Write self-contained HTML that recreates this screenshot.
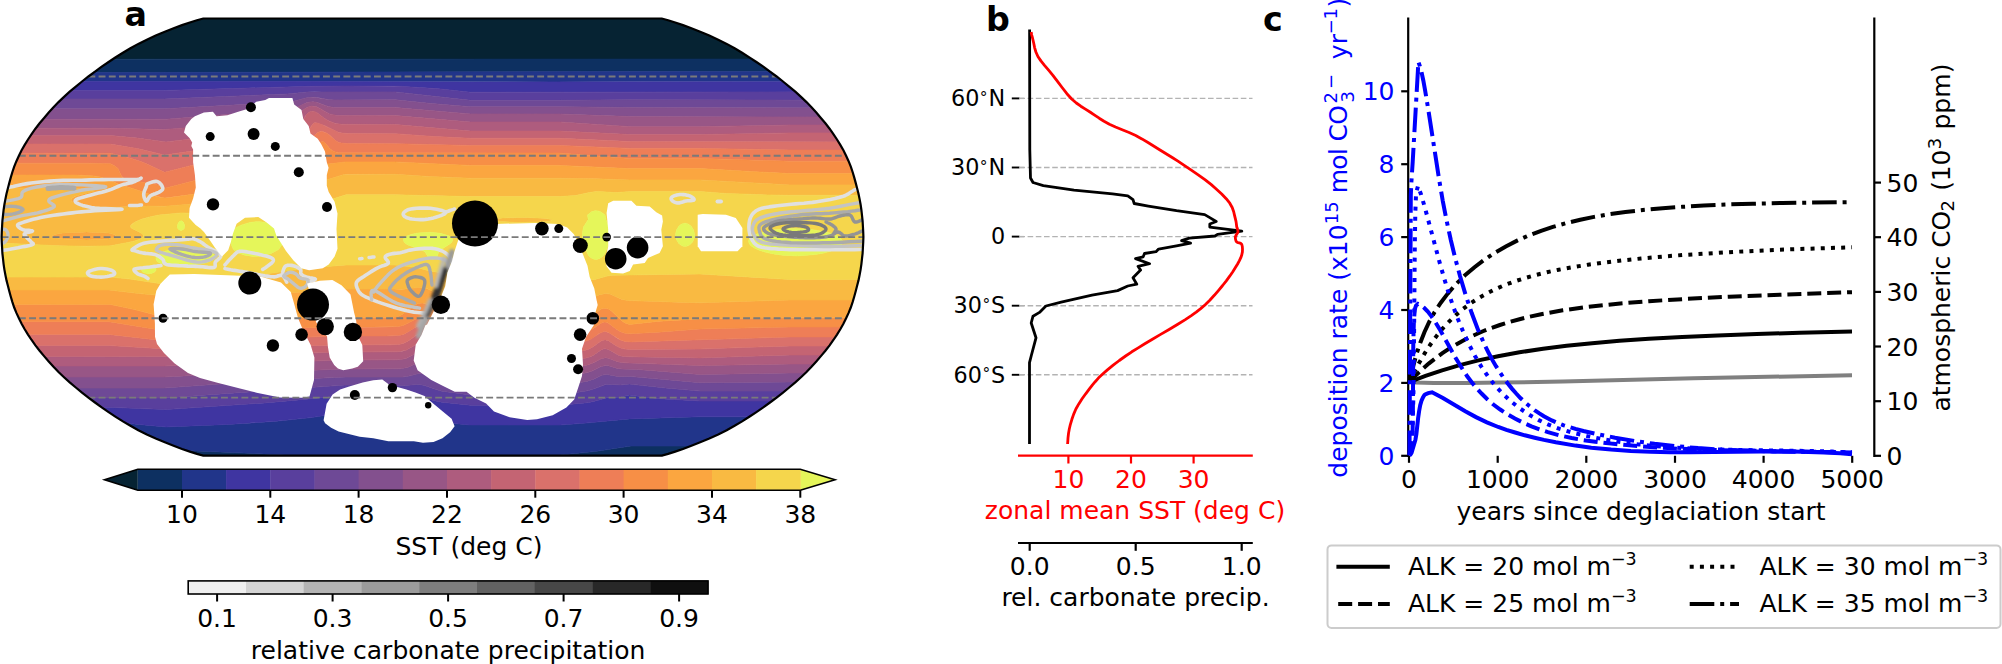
<!DOCTYPE html>
<html><head><meta charset="utf-8"><title>Figure</title>
<style>html,body{margin:0;padding:0;background:#fff;}svg{display:block;}text{font-family:'DejaVu Sans', 'Liberation Sans', sans-serif;}</style>
</head><body>
<svg width="2002" height="664" viewBox="0 0 2002 664">
<rect width="2002" height="664" fill="#fff"/>
<text x="124.6" y="25.9" font-size="33.3" text-anchor="start" fill="#000" font-weight="bold" >a</text>
<clipPath id="mc"><polygon points="661.8,455.6 668.1,453.9 675.2,451.6 683,449 691.4,445.8 700.2,442.3 709.3,438.5 718.2,434.4 726.7,430.2 734.6,425.8 742.1,421.4 749.3,416.8 756.4,412.1 763.3,407.4 770,402.5 776.6,397.6 783,392.6 789.2,387.5 795.3,382.4 801,377.2 806.5,372 811.5,366.8 816.3,361.5 820.9,356.1 825.4,350.8 829.6,345.4 833.4,340 837,334.6 840.3,329.2 843.4,323.8 846.1,318.3 848.6,312.9 850.8,307.5 852.6,302.1 854.2,296.7 855.7,291.2 857.1,285.8 858.5,280.4 859.6,275 860.6,269.6 861.4,264.1 862,258.7 862.6,253.3 862.9,247.9 863.2,242.5 863.4,237.1 863.2,231.6 862.9,226.2 862.6,220.8 862,215.4 861.4,210 860.6,204.5 859.6,199.1 858.5,193.7 857.1,188.3 855.7,182.9 854.2,177.4 852.6,172 850.8,166.6 848.6,161.2 846.1,155.8 843.4,150.3 840.3,144.9 837,139.5 833.4,134.1 829.6,128.7 825.4,123.3 820.9,118 816.3,112.6 811.5,107.3 806.5,102.1 801,96.9 795.3,91.7 789.2,86.6 783,81.5 776.6,76.5 770,71.6 763.3,66.7 756.4,62 749.3,57.3 742.1,52.7 734.6,48.3 726.7,43.9 718.2,39.7 709.3,35.6 700.2,31.8 691.4,28.3 683,25.1 675.2,22.5 668.1,20.2 661.8,18.5 203.2,18.5 196.9,20.2 189.8,22.5 182,25.1 173.6,28.3 164.8,31.8 155.7,35.6 146.8,39.7 138.3,43.9 130.4,48.3 122.9,52.7 115.7,57.3 108.6,62 101.7,66.7 95,71.6 88.4,76.5 82,81.5 75.8,86.6 69.7,91.7 64,96.9 58.5,102.1 53.5,107.3 48.7,112.6 44.1,118 39.6,123.3 35.4,128.7 31.6,134.1 28,139.5 24.7,144.9 21.6,150.3 18.9,155.8 16.4,161.2 14.2,166.6 12.4,172 10.8,177.4 9.3,182.9 7.9,188.3 6.5,193.7 5.4,199.1 4.4,204.5 3.6,210 3,215.4 2.4,220.8 2.1,226.2 1.8,231.6 1.6,237.1 1.8,242.5 2.1,247.9 2.4,253.3 3,258.7 3.6,264.1 4.4,269.6 5.4,275 6.5,280.4 7.9,285.8 9.3,291.2 10.8,296.7 12.4,302.1 14.2,307.5 16.4,312.9 18.9,318.3 21.6,323.8 24.7,329.2 28,334.6 31.6,340 35.4,345.4 39.6,350.8 44.1,356.1 48.7,361.5 53.5,366.8 58.5,372 64,377.2 69.7,382.4 75.8,387.5 82,392.6 88.4,397.6 95,402.5 101.7,407.4 108.6,412.1 115.7,416.8 122.9,421.4 130.4,425.8 138.3,430.2 146.8,434.4 155.7,438.5 164.8,442.3 173.6,445.8 182,449 189.8,451.6 196.9,453.9 203.2,455.6"/></clipPath>
<g clip-path="url(#mc)">
<path d="M-0.5 14l867 0 0 45 -738 0.2 -130.5 0 0 -45.2z" fill="#062333" stroke="#062333" stroke-width="0.6"/>
<path d="M-0.5 59.2l867 -0.2 0 12.4 -237 0 -465 1.1 -166.5 0 0 -13.3zM631 446l235.5 0 0 13.5 -868.5 0 0 -9.4 168 -0.4 72 3 106.5 5.3 49.5 0 34.5 -1.7 40.5 -1.3 91.5 0 36 -3.7 34.5 -5.3z" fill="#0d3061" stroke="#0d3061" stroke-width="0.6"/>
<path d="M110.5 72.5l519 -1.1 237 0 0 10.2 -235.5 0 -76.5 0.4 -160.5 -0.5 -396 0.1 0 -9.1 111 0zM341.5 412.8l4.5 -0.4 49.5 0 10.5 2.8 31.5 6.4 13.5 1.7 19.5 1.7 90 0 25.5 -1.9 43.5 -4.2 70.5 -2.1 166.5 0 0 29.2 -235.5 0 -34.5 5.3 -36 3.7 -91.5 0 -40.5 1.3 -34.5 1.7 -49.5 0 -106.5 -5.3 -72 -3 -168 0.4 0 -30 112.5 0.1 25.5 4 30 2.8 61.5 -2.5 46.5 -3 37.5 -3.9 28.7 -4.6z" fill="#21358a" stroke="#21358a" stroke-width="0.6"/>
<path d="M310 81.5l160.5 0.5 396 -0.4 0 10.2 -396 0.4 -34.5 -3.7 -42 -2.5 -82.5 0.3 -147 4.1 -166.5 0 0 -8.8 311.4 -0.1zM346 395l48 0 10.5 1.3 13.5 0.4 4.5 0.7 12 3.3 7.5 1.5 28.5 3 90 0 27 -2.5 6 -1.2 13.5 -3.7 13.5 -0.9 9 -2 15 2.2 15 1.6 40.5 2.3 166.5 0 0 15.8 -166.5 0 -18 0.5 -52.5 1.6 -43.5 4.2 -25.5 1.9 -91.5 -0.1 -18 -1.6 -13.5 -1.7 -30 -6.1 -13.5 -3.2 -49.5 0.1 -33 5.2 -36 3.7 -46.5 3.1 -63 2.6 -30 -2.8 -25.5 -4 -112.5 -0.1 0 -12.8 111 0 57 2.3 99 -6.7 39 -3.5 42 -4.4z" fill="#3f35a1" stroke="#3f35a1" stroke-width="0.6"/>
<path d="M346 86l54 0.2 39 2.6 31.5 3.4 396 -0.4 0 8.4 -235.5 -0.5 -70.5 0.6 -90 0 -75 -8.4 -66 0.3 -15 -0.5 -7.5 0.3 -19.5 1.9 -123 5.1 -166.5 0 0 -8.6 166.5 0 145.5 -4.1 36 -0.3zM418 384.4l6 0.8 10.5 3.9 7.5 2.1 28.5 3.8 90 -0.1 27 -4.1 6 -1.7 12 -4.5 4.5 -0.2 10.5 0.6 9 -0.9 36 3.9 34.5 3.1 166.5 -0.1 0 10 -166.5 0 -40.5 -2.3 -15 -1.6 -15 -2.2 -9 2 -13.5 0.9 -13.5 3.7 -6 1.2 -27 2.5 -90 0 -28.5 -3 -7.5 -1.5 -12 -3.3 -4.5 -0.7 -13.5 -0.4 -10.5 -1.3 -48 0 -42 4.4 -39 3.5 -99 6.7 -57 -2.3 -111 0 0 -9.6 166.5 0.3 180 -12.9 49.5 -0.1 10.5 0.6 12.3 -1.1z" fill="#593f9d" stroke="#593f9d" stroke-width="0.6"/>
<path d="M307 92l88.5 -0.1 75 8.4 90 0 70.5 -0.6 235.5 0.5 0 7.8 -235.5 -0.4 -70.5 -0.9 -90 0 -39 -3.2 -36 -3.7 -61.5 0.1 -6 -0.5 -10.5 -1.9 -4.5 -0.4 -6 0.6 -13.5 3.5 -7.5 1 -121.5 6.6 -166.5 0 0 -9.8 166.5 0 123 -5.1 19.3 -1.9zM418 373.7l3 -0.2 3 0.5 12 5.6 7.5 2.3 27 4.1 90 -0.1 27 -4.7 6 -2 9 -4.1 4.5 -0.6 12 2.2 12 -0.1 69 6.1 90 -0.7 76.5 0 0 9 -166.5 0.1 -34.5 -3.1 -36 -3.9 -9 0.9 -10.5 -0.6 -4.5 0.2 -12 4.5 -6 1.7 -27 4.1 -90 0.1 -28.5 -3.8 -7.5 -2.1 -10.5 -3.9 -6 -0.8 -13.5 1.2 -10.5 -0.6 -49.5 0.1 -180 12.9 -166.5 -0.3 0 -9.7 166.5 0 79.5 -5.7 88.5 -4.7 13.5 -0.6 57 0 6 -0.9 7.6 -2.1z" fill="#6e4996" stroke="#6e4996" stroke-width="0.6"/>
<path d="M305.5 98l4.5 -0.7 4.5 -0.1 13.5 2.2 6 0.5 61.5 -0.1 36 3.7 39 3.2 90 0 70.5 0.9 235.5 0.4 0 9.1 -235.5 -0.5 -70.5 -2.6 -90 -0.1 -75 -6.3 -61.5 0 -6 -1.2 -10.5 -4 -4.5 -0.7 -6 0.9 -12 5.8 -7.5 2 -67.5 4.6 -54 4.2 -168 0.1 0 -10.5 166.5 0 121.5 -6.6 7.5 -1 12 -3.2zM416.5 363.2l4.5 -1.1 3 0.7 12 7.5 7.5 2.7 7.5 1.1 19.5 2 90 -0.1 19.5 -2.1 7.5 -1.3 4.5 -1.5 9 -4.5 4.5 -1 3 0.2 9 2.6 4.5 0.7 15.5 0.4 62.5 5 90 -1.5 76.5 0 0 9 -76.5 0 -90 0.7 -69 -6.1 -12 0.1 -12 -2.2 -4.5 0.6 -9 4.1 -6 2 -27 4.7 -90 0.1 -21 -3 -7.5 -1.4 -6 -2 -10.5 -5.1 -4.5 -1 -3 0.2 -9 2.4 -6 0.9 -57 0 -13.5 0.6 -88.5 4.7 -79.5 5.7 -166.5 0 0 -11 166.5 0 82.5 -4.3 97.5 -3.7 55.5 -0.2 7.5 -1.3 8.4 -4z" fill="#83508e" stroke="#83508e" stroke-width="0.6"/>
<path d="M308.5 102.2l3 -0.4 4.5 0.3 12 4.3 6 1.2 61.5 0 75 6.3 90 0.1 70.5 2.6 235.5 0.5 0 7.9 -76.5 0 -90 1.7 -69 0 -70.5 -4.7 -90 0 -75 -6.4 -60 -0.2 -6 -1.5 -10.5 -6 -3 -1.3 -3 -0.5 -3 0.3 -3 1 -3.9 2.6 -8.1 7 -3 1.4 -4.5 1 -121.5 10 -55.5 -1.1 -112.5 -0.1 0 -8.9 168 -0.1 57 -4.4 63 -4.2 7.5 -1.6 9.9 -5 3.9 -1.5zM418 352.4l3 -0.6 4.2 1.2 10.8 8.1 3 1.7 4.5 1.8 9 1.6 18 1.8 90 0 19.5 -1.8 7.5 -1.2 6 -2.2 7.5 -4.1 4.5 -1 3 0.5 9 3.5 6 1.1 76.5 2.8 90 -1.6 76.5 0 0 9 -76.5 0 -90 1.5 -62.5 -5 -15.5 -0.4 -4.5 -0.7 -9 -2.6 -3 -0.2 -4.5 1 -9 4.5 -4.5 1.5 -7.5 1.3 -19.5 2.1 -90 0.1 -20.7 -2.1 -7.8 -1.4 -7.5 -3 -9 -6.1 -4.5 -1.4 -4.5 1.1 -9 4.3 -7.5 1.3 -55.5 0.2 -97.5 3.7 -82.5 4.3 -166.5 0 0 -11 166.5 0 180 -5.9 54 -0.3 7.5 -1.2 10.6 -5.6z" fill="#985686" stroke="#985686" stroke-width="0.6"/>
<path d="M308.5 106.8l3 -0.7 4.5 0.5 3 1.3 10.5 6 7.5 1.6 58.5 0.1 75 6.4 90 0 70.5 4.7 69 0 90 -1.7 76.5 0 0 7.9 -76.5 0 -90 1.7 -69 0 -70.5 -3.5 -90 0 -75 -6.6 -55.5 -0.3 -6 -1.3 -6 -2.4 -4.5 -2.8 -6 -4.8 -4.5 -1.7 -3 0.5 -2.1 1.3 -2.7 3 -3.1 6 -2.4 3 -3.2 2 -3.1 1 -7.4 1.1 -60 5.7 -60 7.1 -28.5 -3.8 -27 -2.6 -112.5 0 0 -7.3 112.5 0.1 54 1.2 118.5 -9.6 6 -0.8 4.5 -1.3 4.5 -3 6 -5.5 3.9 -2.3zM418 343.5l3 -0.8 1.5 0.1 3 1.2 11.4 9 6.6 3.2 7.5 1.6 19.5 2.2 88.5 0 21 -1.1 6 -0.8 4.5 -1.4 3 -1.5 7.5 -5.3 3 -1.1 1.5 -0.1 3 0.7 10.5 6 4.5 1.1 4.5 0.3 72 1.1 90 -2.9 76.5 0 0 9 -76.5 0 -90 1.6 -76.5 -2.8 -6 -1.1 -9 -3.5 -3 -0.5 -4.5 1 -7.5 4.1 -6 2.2 -7.5 1.2 -19.5 1.8 -90 0 -19.5 -2 -9 -1.9 -6 -3 -10.5 -8 -4.5 -1.3 -4.5 1.2 -10.5 5.6 -7.5 1.2 -54 0.3 -180 5.9 -166.5 0 0 -9.5 166.5 0.1 180 -4.5 52.5 -0.3 4.5 -0.3 4.5 -1.2 11.2 -6.3z" fill="#ae5c7e" stroke="#ae5c7e" stroke-width="0.6"/>
<path d="M311.5 111.3l3 0.2 3 1.4 7.5 5.9 4.5 2.4 6 2.2 6 0.9 54 0.2 75 6.6 90 0 70.5 3.5 69 0 90 -1.7 76.5 0 0 9.1 -235.5 -0.5 -70.5 -3.2 -91.5 0 -39 -2.1 -34.5 -2.5 -43.5 -0.1 -9 -0.4 -6 -1.4 -12 -6 -9 -3.1 -1.5 0.1 -1.5 0.9 -5.1 7.3 -3.9 4 -3 1.7 -4.5 1.4 -78 9.2 -54 7.6 -24.8 -5.9 -29.2 -4.9 -112.5 -0.1 0 -8.5 112.5 0 27 2.6 28.5 3.8 60 -7.1 60 -5.7 7.4 -1.1 3.1 -1 3.2 -2 2.4 -3 4.2 -7.5 2.2 -2 2.2 -1zM418 334.4l4.5 -0.7 3 1 3 1.9 9 8 6 3.1 7.5 1.8 19.5 2.4 88.5 0 21 -0.9 4.5 -0.6 4.5 -1.4 4.5 -2.6 7.5 -5.4 3 -1.1 1.5 0 3 0.8 7.5 5 4.5 2.3 4.5 1.1 6 0.3 69 -0.4 90 -3 76.5 0 0 9 -76.5 0 -90 2.9 -72 -1.1 -4.5 -0.3 -4.5 -1.1 -10.5 -6 -3 -0.7 -1.5 0.1 -3 1.1 -7.5 5.3 -3 1.5 -4.5 1.4 -6 0.8 -21 1.1 -88.5 0 -19.5 -2.2 -7.5 -1.6 -6.6 -3.2 -11.4 -9 -3 -1.2 -1.5 -0.1 -3 0.8 -12 6.8 -7.5 1.5 -54 0.3 -180 4.5 -166.5 -0.1 0 -11 111 0 57 3.5 178.5 -4.1 46.5 -0.1 7.5 -0.3 4.5 -1 4.5 -2.1 9.3 -6.4z" fill="#c46473" stroke="#c46473" stroke-width="0.6"/>
<path d="M314.5 122.8l3 0.2 4.5 1.6 16.5 7.7 3 0.7 6 0.5 48 0.2 36 2.6 39 2 90 0 69 3.2 237 0.5 0 8 -76.5 0 -90 -1.6 -69 0 -70.5 -2.9 -90 0 -75 -1.8 -46.5 -0.1 -7.5 -0.5 -3 -0.9 -3 -1.7 -6 -5.4 -3 -2.1 -3 -1.2 -3 -0.2 -2.8 0.9 -2 1.5 -5.7 7.8 -3 3.1 -3 1.8 -3 1 -7.5 1.3 -48.3 6 -23.7 3.9 -24 5 -33 8.4 -17.4 -8.3 -7.6 -3 -14 -4.3 -15 -3.4 -112.5 -0.1 0 -9.2 112.5 0.1 27 4.5 27 6.3 1.5 -0.1 51 -7.3 79.5 -9.4 4.5 -1.4 4.5 -3 2.4 -2.7 5.3 -7.5zM419.5 325.6l3 -0.2 4.5 1.5 12 9.2 6 2.8 7.5 1.5 18 1.6 111 -0.3 4.5 -0.6 3 -1 12 -7.6 3 -1 1.5 0 4.5 1.8 7.5 5.2 3 1.6 4.5 1.3 6 0.5 159 -4.9 76.5 0 0 9 -76.5 0 -90 3 -69 0.4 -6 -0.3 -4.5 -1.1 -4.5 -2.3 -7.5 -5 -3 -0.8 -1.5 0 -3 1.1 -7.5 5.4 -4.5 2.6 -4.5 1.4 -4.5 0.6 -21 0.9 -88.5 0 -19.5 -2.4 -7.5 -1.8 -6 -3.1 -10.5 -9 -3 -1.5 -3 -0.4 -4.5 1.4 -9 6.3 -4.5 2.1 -4.5 1 -7.5 0.3 -46.5 0.1 -178.5 4.1 -57 -3.5 -111 0 0 -11.1 111 0 57 6.6 178.5 -5 42 0 10.5 -0.4 4.5 -0.7 3 -1 10.5 -6.4 3.2 -1.5z" fill="#da716b" stroke="#da716b" stroke-width="0.6"/>
<path d="M319 131.9l3 -0.3 4.5 1.4 3 2.1 6 5.4 3 1.7 3 0.9 7.5 0.5 46.5 0.1 75 1.8 90 0 70.5 2.9 69 0 90 1.6 76.5 0 0 11.2 -76.5 0 -90 -2.8 -70.5 0 -70.5 -5.4 -219 -0.3 -4.5 -0.7 -3 -1.2 -3 -2.5 -4.5 -5.5 -1.5 -1 -1.5 -0.2 -1.5 0.8 -1.5 1.7 -3.7 6.4 -2.3 2.6 -3 2.1 -4.5 1.7 -33.2 5.6 -23.8 5 -30.4 7 -52.1 13.5 -1.5 0 -6 -2.7 -6 -1.8 -19.5 -2.4 -7.5 -2.1 -2.5 -1.5 -1.5 -1.5 -3.5 -7.5 -3 -2.5 -4.5 -2.3 -21 -0.5 -91.5 0 0 -10 112.5 0.1 15 3.4 14 4.3 7.6 3 17.4 8.3 33 -8.4 24 -5 23.7 -3.9 48.3 -6 7.5 -1.3 3 -1 3.5 -2.2 2.5 -2.7 4.5 -6.5 3.2 -2.8zM418 317.9l4.5 -0.9 3 0.8 13.5 8.6 7.5 3 7.5 1.2 16.5 1.4 112.5 0.3 6 -1.4 4.5 -2.5 7.5 -5.2 3 -1.2 1.5 0.1 3 1.2 7.5 5.6 4.5 2.8 4.5 1.5 4.5 0.6 28.5 -1.6 42 -3.2 90 -2 76.5 0 0 10 -76.5 0 -159 4.9 -6 -0.5 -4.5 -1.3 -12 -7.7 -3 -0.9 -1.5 0 -4.5 1.8 -7.5 5.2 -3 1.6 -3 1 -4.5 0.6 -111 0.3 -18 -1.6 -7.5 -1.5 -6 -2.8 -12 -9.2 -3 -1.2 -3 -0.3 -4.5 1.3 -12 7.2 -3 1 -4.5 0.7 -10.5 0.4 -42 0 -178.5 5 -57 -6.6 -111 0 0 -12.7 111 0 57 9.2 138 -3.2 88.5 -0.8 6 -0.5 4.5 -0.9 4.5 -1.9 9.4 -5.1z" fill="#ee7e57" stroke="#ee7e57" stroke-width="0.6"/>
<path d="M320.5 142.4l1.5 -0.8 1.5 0.2 1.5 1 4.5 5.5 2.6 2.2 3.4 1.5 4.5 0.7 219 0.3 70.5 5.4 70.5 0 90 2.8 76.5 0 0 12.4 -76.5 0 -90 -5 -70.5 0 -69 -3.2 -90 0 -75 -3.5 -49.5 0 -22.5 2.7 -15 4 -27.4 5.9 -49 13.5 -31.6 5.2 -36 4.9 -13.5 -3.3 -15.3 -5.3 -16.2 -4.9 -10.5 -4.9 -9 -2.7 -6 -1.1 -16.5 -0.8 -79.5 -0.1 0 -11.8 91.5 0 21 0.5 4.5 2.3 3 2.5 3.5 7.5 1.5 1.5 2.5 1.5 7.5 2.1 19.5 2.4 6 1.8 6 2.7 1.5 0 52.1 -13.5 25.9 -6 28.3 -6 33.2 -5.6 4.5 -1.7 3 -2.1 2.3 -2.6 4.6 -7.5zM418 303.5l4.5 -0.5 4.5 1.5 4.5 3 9 7.8 3 1.8 4.5 1.4 9 0.8 13.5 0.7 88.5 0 24 0.5 3 -0.5 3 -1.5 11.3 -9 2.2 -0.9 3 -0.4 3 0.8 3 2 10.5 10.1 3 1.8 4.5 1.6 30 -3.3 40.5 -2.3 90 -1.1 76.5 0 0 9.2 -76.5 0 -90 2 -42 3.2 -28.5 1.6 -4.5 -0.6 -4.5 -1.5 -4.5 -2.8 -7.5 -5.6 -1.5 -0.8 -3 -0.5 -3 1.2 -10.5 7 -3 1.2 -4.5 0.9 -112.5 -0.3 -18 -1.6 -7.5 -1.4 -6 -2.6 -12 -7.8 -4.5 -1.6 -4.5 0.9 -10.5 5.7 -4.5 1.9 -4.5 0.9 -4.5 0.4 -88.5 0.9 -141 3.1 -55.5 -9.1 -111 0 0 -17.3 112.5 0.1 24 5.1 31.5 8.2 216 -0.2 10.5 -0.2 6 -1.1 4.5 -2.3 10.5 -8.3 4.4 -2.2z" fill="#f78f46" stroke="#f78f46" stroke-width="0.6"/>
<path d="M341.5 162.3l4.5 -0.4 49.5 0 75 3.5 88.5 0 70.5 3.2 70.5 0 90 5 76.5 0 0 11.3 -76.5 0 -90 -5 -70.5 0 -33 -1.1 -37.5 -0.6 -88.5 0 -42 -1.8 -33 -2.1 -49.5 0 -1.9 0.2 -28.1 8.7 -19.5 5.5 -31.5 6.3 -28.5 4.6 -28.5 3.2 -42 3.4 -19.5 -0.2 -28.5 1.1 -19.5 0 -12 -1.1 -8 -1.5 -4.3 -1.5 -2.3 -1.5 -0.8 -1.5 0.7 -1.5 4.2 -2.6 18.7 -4.9 -3.7 -1.3 -9 -1 -15 -0.5 -69 -0.2 0 -13 79.5 0.1 16.5 0.8 6 1.1 9 2.7 10.5 4.9 16.2 4.9 16.8 5.8 7.5 1.9 6 0.9 37.5 -5.3 28.6 -4.8 49 -13.5 27.4 -5.9 15 -4 16.6 -2.1zM64 232.9l22.5 -1 22.5 1.1 5.2 1.5 1.7 1.5 -1.5 1.5 -5.8 1.5 -22.1 1 -23.1 -1 -8.7 -1.5 -2.5 -1.5 2.3 -1.5 8.3 -1.5zM410.5 288.3l7.5 -1 6 0.5 4.5 1.4 10.5 5.1 6 2.2 9 1.7 16.5 1.8 111 0.1 7.5 -1.1 10.5 -4.3 6 -1.2 4.5 0.6 12 5.3 6 1.2 57 1.8 15 0.4 90 -2.8 76.5 0 0 17.8 -76.5 0 -90 1.1 -40.5 2.3 -30 3.3 -4.5 -1.6 -3 -1.8 -10.5 -10.1 -3 -2 -3 -0.8 -3 0.4 -2.2 0.9 -11.3 9 -3 1.5 -3 0.5 -24 -0.5 -88.5 0 -18 -1 -7.5 -1.3 -4.5 -2.4 -12 -10 -4.5 -2 -3 -0.3 -3 0.5 -3.4 1.5 -10.1 7.9 -4.5 2.8 -3.8 1.3 -3.7 0.4 -226.5 0.4 -31.5 -8.2 -24 -5.1 -112.5 -0.1 0 -14.4 111 0 30 3.6 27 2.4 108 -2.6 37.5 -1.8 34.5 -2.5 48 -0.2 7.5 0.5 7.9 -0.9z" fill="#fba640" stroke="#fba640" stroke-width="0.6"/>
<path d="M344.5 174.4l51 -0.1 33 2.1 42 1.8 88.5 0 37.5 0.6 33 1.1 70.5 0 90 5 76.5 0 0 10.4 -76.5 0 -22.5 -0.4 -42 -1.5 -25.5 -1.9 -69 0 -15 1.1 -19.5 -1.1 -6 0.8 -15 3.2 -16.5 1.1 -88.5 0 -75 -1.8 -49.5 0 -13.5 4.2 -10.5 2.7 -13.5 2.6 -12.8 1.7 -41.2 2.4 -37.5 3.6 -25.5 1.2 -10.5 -0.3 -22.1 2.1 -9.4 1.9 -7.5 2.2 -6 2.4 -4 2.5 -1.3 1.5 -0.2 1.5 1.5 1.5 9.2 4.5 1.7 1.5 0.6 1.5 -0.8 1.5 -2.4 1.5 -5.8 2 -9 2.1 -16.5 2.8 -30 0.3 -28.5 -0.7 -52.5 -2.7 0 -54.8 67.5 0.2 24 1.2 5.2 1.6 -4.8 1.5 -10.9 2.4 -4.5 1.7 -2.7 1.9 -0.7 1.5 0.8 1.5 2.3 1.5 4.8 1.6 10.5 1.8 12 0.7 18 -0.1 27 -1 18 0.2 52.5 -4.3 37.5 -5 27 -5 18 -3.9 44.6 -13.5zM62.8 233l-8.3 1.5 -2.3 1.5 2.5 1.5 8.7 1.5 23.1 1 22.1 -1 5.8 -1.5 1.5 -1.5 -1.7 -1.5 -5.2 -1.5 -22.5 -1.1 -22.5 1zM503.5 217.9l21 -0.5 19.5 0.8 8.3 1.3 -2 1.5 -10.8 1 -22.5 0.5 -19.5 -1.1 -3.8 -0.4 -2 -1.5 10.5 -1.5zM334 265.9l12 -0.9 49.5 0 19.5 2.3 15 3.6 19.5 3.4 21 5.5 88.5 0 16.5 -0.9 15 1 4.5 -0.5 12 -3.3 6 -0.9 87 -1.2 90 5.5 76.5 0 0 20.5 -76.5 0 -90 2.8 -15 -0.4 -57 -1.8 -6 -1.2 -12 -5.3 -4.5 -0.6 -6 1.2 -10.5 4.3 -7.5 1.1 -111 -0.1 -15 -1.6 -9 -1.5 -6 -2 -13.5 -6.3 -7.5 -1.3 -16.5 2 -9 -0.4 -48 0.2 -34.5 2.5 -37.5 1.8 -108 2.6 -27 -2.4 -30 -3.6 -111 0 0 -13 112.5 0.1 19.5 2 36 5.4 50.8 -6.5 43.7 -3.4 40.5 -5.6 31.9 -3z" fill="#f9ba42" stroke="#f9ba42" stroke-width="0.6"/>
<path d="M590.5 192.3l7.5 -0.9 18 1.2 15 -1.1 69 0 25.5 1.9 42 1.5 22.5 0.4 76.5 0 0 84.2 -76.5 0 -90 -5.5 -87 1.2 -6 0.9 -12 3.3 -4.5 0.5 -15 -1 -16.5 0.9 -88.5 0 -21 -5.5 -19.5 -3.4 -15 -3.6 -21 -2.3 -48 0 -18 1.4 -28.5 2.8 -37.5 5.3 -45.2 3.5 -50.8 6.5 -36 -5.4 -19.5 -2 -112.5 -0.1 0 -34.2 61.5 3 27 0.4 24 -0.4 22.5 -4.4 6 -1.9 3 -1.6 1.5 -1.9 -0.6 -1.5 -3.9 -2.8 -7 -3.2 -1.5 -1.5 0.2 -1.5 3.5 -3 6.6 -3 8.7 -2.6 9.4 -1.9 22.1 -2.1 10.5 0.3 25.5 -1.2 37.5 -3.6 41.2 -2.4 12.8 -1.7 13.5 -2.6 10.5 -2.7 13.5 -4.2 49.5 0 75 1.8 88.5 0 16.5 -1.1 14 -3zM591.2 212l-3.7 3 0.8 4.5 -4.8 7.5 -0.8 4.5 -0.3 6 2.6 10.5 3.5 7.5 2 2 3 1.6 3 0.3 3 -1 3 -2 2 -2.4 3.1 -7.5 1.9 -9 -0.6 -9 -1.1 -4.5 -1.9 -4.5 -0.9 -4.5 -4 -3 -3 -1.1 -3 -0.1 -3 0.8zM502.2 218l-10.5 1.5 2 1.5 3.8 0.4 19.5 1.1 22.5 -0.5 10.8 -1 2 -1.5 -8.3 -1.3 -19.5 -0.8 -21 0.5zM180.5 221l-1 0.4 -1.5 2 -0.6 3.6 0.4 1.5 1.7 1.5 1.5 0.4 1.5 -0.4 1.7 -1.5 0.4 -3 -1 -3 -1.1 -1.2 -1.5 -0.5zM250 222.5l-9 2.7 -6.6 3.3 -2.8 4.5 -1.5 4.5 0.1 3 1.8 6 1.5 3 1.7 1.5 4.3 2.3 4.5 1.6 9 1.5 6 -0.1 4.5 -0.7 7.5 -2.2 7.5 -3.9 3.2 -4.5 1.8 -4.5 0.5 -3 -1.4 -4.5 -2.7 -4.5 -1.4 -1.1 -4.5 -2.4 -4.5 -1.7 -9 -1.5 -4.5 -0.1 -6 0.8zM681.7 224l-2.7 2 -2.5 4 -1 4.5 0.6 4.5 2.7 4.5 3.2 2.3 1.5 0.4 3 0.1 3 -1.3 3 -3 2 -4.5 0.1 -3 -1 -4.5 -2.6 -4 -3 -2.1 -3 -0.7 -3 0.7zM773.8 230l-14 3 -5.8 2.2 -3.9 2.3 -1.6 3 0.6 3 1.9 2.2 3.3 2.3 5.7 2.5 6 1.8 7.5 1.6 9 1.3 15 0.7 18 -1.4 7.5 -1.3 7.5 -2 4.5 -1.7 5 -3 2.3 -3 0 -3 -2.3 -3 -2.3 -1.5 -5.7 -2.4 -6 -1.7 -15 -2.5 -18 -0.8 -18 1.2zM417.7 233l-6.9 1.5 -4.8 2 -1.5 1 -0.9 1.5 -0.1 1.5 0.6 1.5 1.5 1.5 2.4 1.5 11.5 4.1 4.1 1.9 1.8 1.5 3.1 5.1 1.5 1.1 3 0.5 2.4 -0.7 1.5 -1.5 1.6 -4.5 2.6 -3 9.4 -6 1.4 -1.5 0.6 -1.5 -0.1 -1.5 -0.9 -1.5 -2.3 -1.5 -8.7 -2.7 -10.5 -1 -12 0.6zM175.1 249.5l-10.6 1.8 -5.3 2.7 -3 3 -0.3 1.5 1.2 3 2.9 1.6 6 1.3 15 1 13.5 -0.6 10.5 -1.7 6 -2 3.4 -2.6 0.6 -1.5 -0.4 -1.5 -1.5 -1.5 -5.1 -2.3 -9 -1.9 -10.5 -0.8 -12 0.4zM143.8 267.5l-1.8 1.5 -0.3 1.5 0.9 1.5 0.9 0.5 4.5 1.2 3 -0.2 3 -1.1 1.9 -1.9 0.2 -1.5 -0.9 -1.5 -1.2 -0.8 -4.5 -0.7 -4.5 0.9z" fill="#f5d64c" stroke="#f5d64c" stroke-width="0.6"/>
<path d="M592 211.6l3 -0.8 3 0.1 3 1.1 4 3 0.9 4.5 1.9 4.5 1.1 4.5 0.6 9 -1.9 9 -3.1 7.5 -2 2.4 -3 2 -3 1 -3 -0.3 -3 -1.6 -2 -2 -3.5 -7.5 -2.6 -10.5 0.3 -6 0.8 -4.5 4.8 -7.5 -0.8 -4.5 3.7 -3zM181 220.8l1.5 0.5 1.1 1.2 1 3 -0.4 3 -1.7 1.5 -1.5 0.4 -1.5 -0.4 -1.7 -1.5 -0.4 -1.5 0.6 -3.6 1.5 -2 1 -0.4zM250 222.5l6 -0.8 4.5 0.1 9 1.5 4.5 1.7 4.5 2.4 1.4 1.1 2.7 4.5 1.4 4.5 -0.5 3 -1.8 4.5 -3.2 4.5 -7.5 3.9 -7.5 2.2 -4.5 0.7 -6 0.1 -9 -1.5 -4.5 -1.6 -4.3 -2.3 -1.7 -1.5 -1.5 -3 -1.8 -6 -0.1 -3 1.5 -4.5 2.8 -4.5 6.6 -3.3 9 -2.7zM682 223.9l3 -0.7 3 0.7 3 2.1 2.6 4 1 4.5 -0.1 3 -2 4.5 -3 3 -3 1.3 -3 -0.1 -1.5 -0.4 -3.2 -2.3 -2.7 -4.5 -0.6 -4.5 1 -4.5 2.5 -4 2.7 -2zM775 229.8l18 -1.2 18 0.8 15 2.5 6 1.7 5.7 2.4 2.3 1.5 2.3 3 0 3 -2.3 3 -5 3 -4.5 1.7 -7.5 2 -7.5 1.3 -18 1.4 -15 -0.7 -9 -1.3 -7.5 -1.6 -6 -1.8 -5.7 -2.5 -3.3 -2.3 -1.9 -2.2 -0.6 -3 1.6 -3 3.9 -2.3 5.8 -2.2 14 -3zM418 232.9l12 -0.6 10.5 1 8.7 2.7 2.3 1.5 0.9 1.5 0.1 1.5 -0.6 1.5 -1.4 1.5 -9.4 6 -2.6 3 -1.6 4.5 -1.5 1.5 -2.4 0.7 -3 -0.5 -1.5 -1.1 -3.1 -5.1 -1.8 -1.5 -4.1 -1.9 -11.5 -4.1 -2.4 -1.5 -1.5 -1.5 -0.6 -1.5 0.1 -1.5 0.9 -1.5 1.5 -1 4.8 -2 6.9 -1.5zM176.5 249.4l12 -0.4 10.5 0.8 9 1.9 5.1 2.3 1.5 1.5 0.4 1.5 -0.6 1.5 -3.4 2.6 -6 2 -10.5 1.7 -13.5 0.6 -15 -1 -6 -1.3 -2.9 -1.6 -1.2 -3 0.3 -1.5 3 -3 5.3 -2.7 10.6 -1.8zM145 266.9l4.5 -0.9 4.5 0.7 1.2 0.8 0.9 1.5 -0.2 1.5 -1.9 1.9 -3 1.1 -3 0.2 -4.5 -1.2 -0.9 -0.5 -0.9 -1.5 0.3 -1.5 1.8 -1.5z" fill="#e5f65a" stroke="#e5f65a" stroke-width="0.6"/>
<polyline points="862,188.5 861.3,188.6 860.5,188.6 859.4,188.6 858.2,188.8 856.8,189.1 855.2,189.6 853.6,190.4 851.9,191.6 850,192.8 847.8,194.2 845.3,195.5 842.4,196.6 838.9,197.6 834.8,198.6 830.4,199.5 825.8,200.3 821.2,201.1 816.8,201.8 812.5,202.4 808.3,202.8 804,203.2 799.7,203.5 795.5,203.9 791.2,204.3 786.8,204.8 782.1,205.3 777.4,205.8 773,206.4 769,206.9 765.6,207.5 763,208.1 760.9,208.6 759.2,209.2 757.9,209.8 756.6,210.5 755.4,211.3 754.2,212.3 753.1,213.3 752.2,214.5 751.5,215.7 750.8,217 750.2,218.4 749.7,219.9 749.4,221.6 749.1,223.3 749,225.1 748.9,226.9 749,228.6 749.1,230.3 749.4,232.1 749.7,233.9 750.1,235.7 750.7,237.3 751.5,238.9 752.3,240.4 753.3,241.8 754.3,243.2 755.6,244.4 757.2,245.6 759.2,246.5 761.7,247.2 764.5,247.8 767.7,248.2 771.1,248.6 774.7,248.8 778.4,249.1 782.3,249.3 786.5,249.5 790.8,249.6 795.2,249.6 799.7,249.7 804,249.7 808.2,249.7 812.2,249.8 816.2,249.8 820.4,249.7 824.8,249.7 829.6,249.7 835.2,249.7 841.7,249.6 848.4,249.6 854.8,249.6 860.2,249.5 864,249.5" fill="none" stroke="#e0e0e0" stroke-width="3.6" stroke-linejoin="round" stroke-linecap="round"/>
<polyline points="864,203 863.6,202.9 863.2,202.8 862.6,202.7 861.6,202.6 860.1,202.7 857.7,203 854.2,203.6 849.9,204.4 844.9,205.4 839.6,206.5 834.4,207.4 829.6,208.2 825.2,208.8 820.9,209.2 816.6,209.6 812.4,210 808.2,210.3 804,210.7 799.7,211.1 795.2,211.5 790.8,211.8 786.5,212.2 782.3,212.7 778.4,213.3 774.7,214 771.1,214.7 767.6,215.5 764.4,216.4 761.6,217.4 759.2,218.4 757.3,219.5 755.8,220.7 754.7,222 753.9,223.3 753.3,224.7 752.8,226.1 752.5,227.5 752.4,229 752.5,230.5 752.8,232.1 753.4,233.6 754.1,235 754.9,236.4 755.8,237.8 756.9,239.2 758.3,240.6 760.3,241.7 763,242.7 766.5,243.4 770.6,244 775.3,244.4 780.3,244.7 785.7,245 791.2,245.3 797.1,245.6 803.4,245.9 810,246.1 816.7,246.3 823.3,246.5 829.6,246.5 836,246.4 842.6,246.2 849.2,246 855.2,245.7 860.3,245.5 864,245.3" fill="none" stroke="#c4c4c4" stroke-width="3.4" stroke-linejoin="round" stroke-linecap="round"/>
<polyline points="864,209 863.2,209.2 862.3,209.4 861.2,209.7 859.7,210 857.7,210.3 855.2,210.7 851.9,211.1 847.9,211.6 843.5,212 838.8,212.5 834.1,212.9 829.6,213.3 825.3,213.5 821.1,213.7 816.8,213.8 812.5,214 808.3,214.2 804,214.5 799.6,215 795.1,215.6 790.6,216.2 786.3,216.9 782.1,217.6 778.4,218.4 775,219.2 771.7,220 768.7,220.8 766,221.7 763.7,222.6 761.8,223.5 760.5,224.5 759.6,225.4 759.1,226.5 758.9,227.5 759,228.7 759.2,229.9 759.5,231.3 760,232.9 760.6,234.6 761.7,236.2 763.3,237.7 765.6,238.9 768.6,239.9 772.2,240.7 776.4,241.4 781,241.9 786,242.3 791.2,242.7 796.9,242.9 803.2,243 809.9,243 816.6,243 823.3,242.8 829.6,242.7 836,242.5 842.6,242.2 849.2,241.8 855.2,241.5 860.3,241.2 864,241" fill="none" stroke="#ababab" stroke-width="3.4" stroke-linejoin="round" stroke-linecap="round"/>
<polyline points="864,219 863,219.4 861.5,220.1 859.8,220.9 858,221.6 856.4,222 855,222 854,221.3 853.2,220.1 852.6,218.6 851.9,217.1 851.1,215.8 850,215 848.6,214.7 847,214.7 845.3,214.9 843.5,215.2 841.7,215.6 840,216 838.4,216.4 836.9,217 835.3,217.6 833.7,218.2 832,218.7 830,219 827.8,219 825.4,218.9 822.8,218.6 820.2,218.3 817.6,218.1 815,218 812.6,218 810.2,218.1 807.9,218.3 805.5,218.5 802.9,218.8 800,219 796.7,219.2 793,219.5 789.1,219.7 785.2,220.1 781.6,220.5 778.4,221 775.6,221.7 773.1,222.5 770.7,223.4 768.7,224.4 767,225.3 765.6,226.1 764.6,226.8 764,227.5 763.6,228.1 763.6,228.7 763.7,229.4 764,230 764.5,230.7 765.1,231.4 766,232.1 767.1,232.8 768.4,233.4 770,234 772,234.5 774.3,234.9 776.8,235.3 779.5,235.7 782.2,236 784.8,236.3 787.3,236.6 789.8,236.8 792.3,237 794.8,237.2 797.4,237.4 800,237.5 802.7,237.6 805.6,237.7 808.5,237.7 811.4,237.7 814.2,237.7 816.8,237.6 819.3,237.5 821.7,237.3 823.9,237.1 826.1,236.8 828.1,236.4 830,236 831.6,235.4 833.1,234.5 834.4,233.7 835.6,232.8 836.8,232.2 838,232 839.2,232.3 840.3,233 841.4,233.9 842.5,234.8 843.7,235.6 845,236 846.5,236 848.1,235.9 849.9,235.5 851.6,235 853.4,234.5 855,234 856.7,233.4 858.4,232.7 860.1,231.9 861.7,231.1 863,230.5 864,230" fill="none" stroke="#949494" stroke-width="3.4" stroke-linejoin="round" stroke-linecap="round"/>
<polygon points="770,228 770.4,227.1 771.5,226.2 773.1,225.4 775.2,224.7 777.5,224 780,223.5 782.8,223.1 786,222.8 789.5,222.6 793.1,222.5 796.7,222.5 800,222.5 803.2,222.6 806.5,222.7 809.8,222.9 812.8,223.1 815.6,223.5 818,224 820.1,224.6 822,225.4 823.6,226.2 824.9,227.2 825.7,228.1 826,229 825.7,229.9 824.9,231 823.6,232 822,233 820.1,233.8 818,234.5 815.6,235 812.8,235.2 809.8,235.4 806.5,235.5 803.2,235.5 800,235.5 796.7,235.5 793.1,235.5 789.5,235.5 786,235.3 782.8,235 780,234.5 777.5,233.7 775.2,232.7 773.1,231.5 771.5,230.2 770.4,229" fill="none" stroke="#7a7a7a" stroke-width="3.4" stroke-linejoin="round" stroke-linecap="round"/>
<polygon points="783,229 783.3,228.5 784.2,227.9 785.4,227.3 786.9,226.8 788.5,226.3 790,226 791.5,225.8 793.2,225.7 795,225.6 796.8,225.6 798.5,225.7 800,225.8 801.4,226 802.8,226.2 804.1,226.5 805.2,226.8 806.2,227.1 807,227.5 807.6,227.9 808.1,228.4 808.4,229 808.6,229.5 808.4,230.1 808,230.5 807.2,230.9 806.1,231.3 804.7,231.6 803.1,231.9 801.6,232.1 800,232.3 798.4,232.4 796.7,232.6 794.9,232.6 793.2,232.6 791.5,232.5 790,232.3 788.5,231.9 786.9,231.4 785.4,230.8 784.2,230.2 783.3,229.6" fill="none" stroke="#7a7a7a" stroke-width="3.4" stroke-linejoin="round" stroke-linecap="round"/>
<polyline points="826,222 826.7,222.3 827.6,222.7 828.8,223.2 829.9,223.8 831,224.4 832,225 832.9,225.6 833.7,226.3 834.5,226.9 835.2,227.6 835.7,228.3 836,229 836,229.7 835.7,230.5 835.2,231.2 834.7,232 834.3,232.6 834,233" fill="none" stroke="#949494" stroke-width="3.4" stroke-linejoin="round" stroke-linecap="round"/>
<polyline points="0,188.5 0.8,188.4 1.7,188.4 2.9,188.3 4.3,188.2 6,187.9 8.1,187.6 10.5,187.1 13.3,186.5 16.4,185.7 19.8,185 23.3,184.2 27.1,183.6 31.1,183 35.5,182.5 40.1,182 44.9,181.5 49.6,181.1 54.2,180.8 58.7,180.6 63.2,180.4 67.7,180.4 72.3,180.3 76.8,180.3 81.3,180.2 85.8,180.1 90.4,179.9 94.9,179.8 99.4,179.7 104,179.6 108.5,179.5 113.3,179.5 118.3,179.5 123.4,179.5 128.2,179.6 132.3,179.6 135.6,179.5 137.9,179.3 139.5,178.9 140.5,178.5 141,178.2 141.1,178 141,178.1 140.5,178.5 139.4,179.1 138,179.9 136.3,180.7 134.6,181.5 132.9,182.2 131.3,182.7 129.6,183.1 127.8,183.5 125.9,183.9 124,184.3 122,184.9 120,185.6 117.9,186.5 115.8,187.4 113.6,188.4 111.2,189.4 108.5,190.3 105.4,191.2 101.9,192.2 98.2,193.1 94.5,194.1 91.1,195 88.1,195.8 85.4,196.6 82.9,197.2 80.6,197.9 78.6,198.5 77,199.1 75.9,199.8 75.3,200.5 75.2,201.2 75.5,201.8 76.1,202.5 77.2,203.2 78.6,203.9 80.4,204.6 82.6,205.4 85.2,206.1 88.2,206.8 91.4,207.5 94.9,208 99.4,208.4 105.1,208.6 111.2,208.8 116.6,209 120.5,209.1 122,209.3 120.6,209.5 117,209.7 111.8,209.9 105.9,210.1 100,210.4 94.9,210.7 90.4,211.1 85.9,211.5 81.4,211.9 76.8,212.3 72.3,212.9 67.8,213.4 63.2,214 58.5,214.6 53.7,215.3 49.1,216 44.7,216.7 40.7,217.5 36.9,218.4 33.2,219.3 29.8,220.3 26.6,221.3 23.9,222.1 21.7,222.9 20,223.5 18.9,223.9 18.1,224.3 17.7,224.7 17.6,225.1 17.6,225.6 17.9,226.2 18.5,227 19.5,227.7 20.5,228.5 21.8,229.2 23,229.7 24.5,230.1 26.5,230.3 28.6,230.4 30.5,230.6 31.9,230.7 32.5,231 32,231.4 30.7,231.7 28.9,232.2 27,232.6 25.3,233.2 24.4,233.7 24.2,234.3 24.4,235 25,235.7 25.7,236.4 26.4,237.1 27.1,237.8 27.7,238.5 28.5,239.2 29.2,239.9 30,240.6 30.7,241.3 31.2,241.9 31.7,242.4 32.3,242.9 32.9,243.3 33.2,243.8 33.1,244.2 32.5,244.6 31.3,245 29.5,245.5 27.4,245.9 25.1,246.4 22.6,246.8 20.3,247.3 17.9,247.8 15.2,248.3 12.4,248.8 9.8,249.3 7.4,249.7 5.4,250 3.9,250.2 2.7,250.3 1.8,250.4 1,250.5 0.5,250.5 0,250.5" fill="none" stroke="#e0e0e0" stroke-width="3.6" stroke-linejoin="round" stroke-linecap="round"/>
<polyline points="0,202 0.5,201.9 1,201.9 1.8,201.8 2.7,201.7 3.9,201.5 5.4,201.2 7.5,200.8 10.1,200.4 13,199.8 15.9,199.2 18.4,198.6 20.3,197.8 21.4,196.9 21.8,195.9 21.9,194.8 21.9,193.7 22.2,192.6 23,191.7 24.2,190.9 25.7,190.1 27.4,189.4 29.3,188.8 31.4,188.2 33.9,187.6 36.7,187 39.7,186.5 43,186 46.6,185.5 50.3,185.2 54.2,184.9 58.4,184.7 62.8,184.6 67.5,184.6 72.2,184.7 76.9,184.8 81.3,184.9 86.1,185.1 91.4,185.4 96.7,185.7 101.3,186.1 104.5,186.5 105.7,186.9 104.5,187.3 101.3,187.8 96.7,188.3 91.4,188.9 86.1,189.5 81.3,190.3 76.7,191.3 71.7,192.4 66.6,193.7 61.7,194.9 57.5,196.1 54.2,197.1 51.9,197.9 50.4,198.6 49.5,199.2 49,199.8 48.8,200.5 48.8,201.2 49.3,202 50.5,202.9 52,203.8 53.4,204.8 54.3,205.7 54.2,206.6 53.1,207.5 51.4,208.4 49.1,209.4 46.4,210.3 43.6,211.2 40.7,212 37.6,212.8 34.2,213.5 30.6,214.1 26.9,214.8 23.5,215.4 20.3,216.1 17.4,216.8 14.6,217.6 11.9,218.4 9.5,219.1 7.3,219.7 5.4,220.2 3.9,220.5 2.7,220.7 1.8,220.9 1,220.9 0.5,221 0,221" fill="none" stroke="#c4c4c4" stroke-width="3.4" stroke-linejoin="round" stroke-linecap="round"/>
<polyline points="48,188.6 49.3,188.5 51,188.3 53.1,188.1 55.4,187.9 57.7,187.7 60,187.6 62.4,187.6 65,187.7 67.8,187.8 70.3,188 72.5,188.1 74,188.2" fill="none" stroke="#ababab" stroke-width="5" stroke-linejoin="round" stroke-linecap="round"/>
<polygon points="3,207.5 4.4,207 6.3,206.6 8.5,206.4 10.9,206.3 13.1,206.4 15,206.5 16.8,206.8 18.6,207.2 20.2,207.7 21.7,208.3 22.6,208.9 23,209.5 22.6,210.1 21.7,210.9 20.2,211.7 18.6,212.4 16.8,213 15,213.5 13.1,213.9 10.9,214.2 8.5,214.4 6.3,214.5 4.4,214.4 3,214 2.2,213.3 1.7,212.1 1.5,210.8 1.7,209.5 2.2,208.3" fill="none" stroke="#ababab" stroke-width="3.4" stroke-linejoin="round" stroke-linecap="round"/>
<polyline points="0,229 0.7,229.1 1.7,229.1 2.9,229.1 4.1,229.3 5.2,229.5 6,230 6.6,230.7 7.1,231.6 7.6,232.7 7.9,233.8 8,234.9 8,236 7.8,237 7.4,238.1 6.9,239.2 6.3,240.3 5.7,241.2 5,242 4.2,242.6 3.3,243 2.3,243.4 1.4,243.6 0.6,243.8 0,244" fill="none" stroke="#c4c4c4" stroke-width="3.4" stroke-linejoin="round" stroke-linecap="round"/>
<polygon points="146.4,186.3 146.6,185.5 146.7,185 146.7,184.6 146.8,184.3 147.1,184 147.8,183.6 149,183.1 150.5,182.6 152.3,182 154.1,181.6 155.9,181.4 157.3,181.5 158.5,182.1 159.7,183 160.8,184.2 161.7,185.4 162.3,186.6 162.7,187.6 162.8,188.4 162.7,189.1 162.3,189.8 161.7,190.4 160.9,191 160,191.7 158.7,192.4 157.1,193 155.3,193.7 153.5,194.3 151.8,195 150.5,195.8 149.5,196.8 148.7,198 148,199.2 147.5,200.3 146.9,201 146.4,201.2 145.8,200.8 145.2,199.9 144.6,198.6 144.1,197.2 143.8,195.7 143.7,194.4 143.9,193.1 144.2,191.6 144.8,190.1 145.4,188.6 146,187.4" fill="none" stroke="#e0e0e0" stroke-width="3.6" stroke-linejoin="round" stroke-linecap="round"/>
<polyline points="129.5,205.5 130.2,205.5 131.2,205.5 132.4,205.5 133.7,205.5 134.9,205.5 136,205.5 137,205.4 138.1,205.4 139.2,205.2 140.1,205.1 140.9,205.1 141.5,205" fill="none" stroke="#e0e0e0" stroke-width="3.5" stroke-linejoin="round" stroke-linecap="round"/>
<polygon points="132.5,249.3 133.5,248.5 135,247.5 136.8,246.4 139,245.2 141.3,244.1 143.8,243.3 146.5,242.7 149.4,242.2 152.5,241.9 155.8,241.6 159.2,241.3 162.6,241 166.3,240.7 170.4,240.4 174.6,240.2 178.6,239.9 182.3,239.7 185.2,239.5 187.3,239.3 188.8,239.1 189.9,238.9 190.8,238.7 191.7,238.7 192.8,238.8 194.1,239.1 195.3,239.4 196.6,239.9 197.8,240.5 199.1,241.1 200.3,241.8 201.5,242.5 202.7,243.3 203.9,244.2 205.1,245.1 206.4,246.1 207.8,247 209.5,248 211.4,249.1 213.4,250.1 215.4,251.2 217.1,252.2 218.4,253.1 219.3,253.8 220,254.5 220.5,255 220.7,255.5 220.8,256.1 220.6,256.8 220.1,257.6 219.3,258.4 218.2,259.4 217.1,260.3 216.1,261.2 215.4,262.1 215.1,263.1 215.1,264.1 215.2,265.1 215.2,266.1 214.8,266.9 213.9,267.4 212.4,267.6 210.3,267.6 207.9,267.4 205.4,267.1 202.8,266.8 200.3,266.6 197.9,266.5 195.5,266.4 193.1,266.3 190.6,266.2 187.9,266.1 185.2,265.9 182.1,265.7 178.7,265.6 175.1,265.4 171.7,265.2 168.7,264.9 166.4,264.4 164.9,263.7 164.2,262.9 163.8,261.9 163.6,260.9 163.3,260 162.6,259.1 161.6,258.3 160.5,257.4 159.3,256.6 158,255.8 156.6,255.2 155.1,254.6 153.4,254.2 151.5,253.9 149.5,253.7 147.5,253.5 145.6,253.4 143.8,253.1 142.1,252.8 140.4,252.4 138.7,252 137.2,251.5 135.9,251.1 134.8,250.8 133.9,250.6 133,250.4 132.4,250.3 132,250.1 132,249.8" fill="none" stroke="#e0e0e0" stroke-width="3.6" stroke-linejoin="round" stroke-linecap="round"/>
<polyline points="161,265.5 159.8,265.7 158.2,265.9 156.3,266.2 154.2,266.4 152.1,266.7 150,267 147.8,267.2 145.4,267.5 143,267.8 140.7,268 138.6,268.2 137,268.5 135.8,268.7 135,268.9 134.4,269.1 134.1,269.3 134,269.6 134,270 134.2,270.5 134.7,271.2 135.4,272 136.3,272.7 137.1,273.4 138,274 138.9,274.4 139.9,274.8 141,275.1 142.1,275.4 143.1,275.7 144,276 144.8,276.4 145.6,276.9 146.4,277.4 147,277.8 147.6,278.2 148,278.5" fill="none" stroke="#e0e0e0" stroke-width="3.6" stroke-linejoin="round" stroke-linecap="round"/>
<polygon points="156.6,248.6 157,248 157.6,247.3 158.5,246.5 159.6,245.8 161,245.2 162.6,244.8 164.6,244.5 167,244.4 169.6,244.4 172.3,244.4 175.1,244.6 177.7,244.8 180.2,245.1 182.7,245.6 185.3,246.2 187.8,246.7 190.3,247.3 192.8,247.8 195.4,248.2 198,248.6 200.7,248.9 203.2,249.3 205.6,249.6 207.8,250.1 209.8,250.6 211.8,251.2 213.6,251.8 215.2,252.4 216.3,253.1 216.9,253.8 216.9,254.6 216.4,255.5 215.5,256.5 214.3,257.4 213,258.3 211.6,259.1 210.1,259.8 208.3,260.4 206.3,261 204.3,261.5 202.3,261.9 200.3,262.1 198.5,262.1 196.7,262 194.9,261.8 193,261.5 191.1,261.1 189,260.6 186.7,260 184.2,259.3 181.7,258.5 179.1,257.7 176.5,256.9 173.9,256.1 171.2,255.3 168.4,254.5 165.6,253.8 163,253 160.7,252.3 158.9,251.6 157.7,251 156.9,250.5 156.4,250.1 156.3,249.6 156.4,249.1" fill="none" stroke="#c4c4c4" stroke-width="3.4" stroke-linejoin="round" stroke-linecap="round"/>
<polygon points="170,249 170.6,248.7 172.2,248.5 174.4,248.5 177,248.6 179.7,248.8 182,249 184.1,249.3 186.2,249.7 188.3,250.2 190.5,250.6 192.7,251.1 195,251.5 197.6,251.8 200.6,252 203.6,252.2 206.3,252.4 208.6,252.6 210,253 210.5,253.5 210.3,254.1 209.6,254.8 208.6,255.4 207.3,256 206,256.5 204.6,256.9 202.9,257.2 201.1,257.4 199.1,257.6 197,257.6 195,257.5 192.9,257.3 190.8,256.9 188.6,256.4 186.3,255.8 184.1,255.2 182,254.5 179.7,253.7 177,252.6 174.4,251.6 172.2,250.5 170.6,249.6" fill="none" stroke="#ababab" stroke-width="3.4" stroke-linejoin="round" stroke-linecap="round"/>
<polyline points="225,268.6 225.7,268.8 226.7,269 227.8,269.2 229.2,269.5 230.7,269.8 232.5,270.1 234.6,270.4 237,270.8 239.6,271.2 242.3,271.6 245,272 247.6,272.4 250.2,272.9 252.8,273.4 255.4,273.9 257.9,274.5 260.4,275 262.7,275.4 264.8,275.8 266.9,276.1 268.8,276.4 270.6,276.7 272.3,276.8 274,276.9 275.6,276.7 277.1,276.3 278.5,275.8 279.9,275.4 281.1,275.2 282.2,275.4 283.2,276.1 284.1,277.3 285,278.7 285.7,280.1 286.3,281.4 286.7,282.2" fill="none" stroke="#e0e0e0" stroke-width="3.6" stroke-linejoin="round" stroke-linecap="round"/>
<polyline points="225,264.8 225.8,263.9 226.9,262.6 228.3,261 229.7,259.4 231.2,257.9 232.5,256.6 233.7,255.5 234.7,254.3 235.8,253.3 236.9,252.4 238.3,251.7 240,251.3 242.1,251.2 244.5,251.5 247.1,251.9 249.8,252.4 252.5,253 255.1,253.6 257.8,254.1 260.6,254.7 263.4,255.4 266.1,256 268.4,256.7 270.2,257.3 271.5,257.9 272.4,258.5 273,259.1 273.3,259.7 273.4,260.4 273.2,261.1 272.7,261.9 271.8,262.8 270.7,263.8 269.4,264.7 268.2,265.6 267.2,266.4 266.3,267.1 265.4,267.7 264.6,268.2 263.8,268.7 263.2,269.1 262.7,269.4" fill="none" stroke="#e0e0e0" stroke-width="3.6" stroke-linejoin="round" stroke-linecap="round"/>
<polyline points="282,275 282.3,274 282.7,272.5 283.1,270.8 283.7,269 284.4,267.5 285.2,266.4 286.2,265.8 287.4,265.4 288.7,265.2 290.1,265.2 291.5,265.4 292.8,265.6 294.1,266 295.6,266.5 297,267.2 298.3,267.9 299.4,268.7 300.3,269.4 300.8,270.1 300.9,270.9 300.8,271.7 300.7,272.5 300.7,273.2 301,273.9 301.6,274.5 302.3,275 303.1,275.5 304.1,276 305.1,276.5 306.3,276.9 307.8,277.3 309.7,277.7 311.7,278 313.5,278.4 314.8,278.8 315.4,279.2 315,279.7 313.8,280.3 312.2,280.8 310.4,281.4 308.8,281.9 307.8,282.2" fill="none" stroke="#e0e0e0" stroke-width="3.6" stroke-linejoin="round" stroke-linecap="round"/>
<polygon points="283.7,276 284.1,275.4 285,274.7 286.2,273.9 287.5,273.2 288.8,272.7 290,272.4 291,272.3 292.1,272.5 293.1,272.7 294.2,273.1 295.1,273.5 296,274 296.7,274.6 297.3,275.2 297.9,276 298.5,276.7 299.1,277.4 300,278 301.2,278.4 302.7,278.7 304.3,278.9 305.8,279.1 307,279.5 307.8,280 308.1,280.8 308.1,281.8 307.8,283 307.3,284.1 306.7,285.2 306,286 305.2,286.7 304.3,287.3 303.3,287.7 302.2,288.1 301,288.2 300,288.2 299,287.9 298,287.3 297,286.5 296,285.7 295,284.8 294,284 293,283.2 291.9,282.3 290.9,281.4 289.9,280.5 288.9,279.7 288,279 287.1,278.4 286,277.9 285.1,277.4 284.3,277 283.8,276.5" fill="none" stroke="#c4c4c4" stroke-width="3.4" stroke-linejoin="round" stroke-linecap="round"/>
<polygon points="403.3,213.6 403.7,212.8 404.5,211.9 405.5,211.1 407,210.2 408.7,209.5 410.8,209 413.4,208.6 416.6,208.3 420.1,208.1 423.8,208.1 427.3,208.1 430.4,208.3 433.4,208.7 436.6,209.2 439.6,209.9 442.3,210.6 444.3,211.4 445.5,212.1 445.6,212.8 444.9,213.6 443.6,214.4 441.8,215.2 439.9,215.9 437.9,216.6 435.8,217.2 433.5,217.9 430.9,218.5 428.2,219 425.5,219.4 422.9,219.6 420.3,219.6 417.5,219.5 414.7,219.3 412.1,219 409.7,218.6 407.8,218.1 406.3,217.5 405.1,216.8 404.1,216 403.5,215.2 403.2,214.4" fill="none" stroke="#e0e0e0" stroke-width="3.6" stroke-linejoin="round" stroke-linecap="round"/>
<polyline points="445.5,212.1 446.6,211.7 448.2,211.2 450,210.5 451.8,209.9 453.4,209.4 454.5,209" fill="none" stroke="#e0e0e0" stroke-width="3.6" stroke-linejoin="round" stroke-linecap="round"/>
<polyline points="424.7,313.3 422.8,313.1 420.3,312.8 417.4,312.5 414,312.1 410.4,311.5 406.8,310.8 402.9,309.8 398.5,308.6 394,307.2 389.4,305.8 385.1,304.4 381.2,303.1 377.7,301.9 374.4,300.6 371.4,299.4 368.6,298.2 366.1,297.1 364,296 362.3,295 361.1,294.1 360.1,293.2 359.4,292.3 358.8,291.4 358.2,290.3 357.6,289.1 357,287.7 356.5,286.3 356.2,284.8 356.2,283.4 356.6,282.1 357.5,280.9 358.7,279.8 360.2,278.7 362,277.6 363.8,276.5 365.6,275.3 367.5,274.1 369.5,272.7 371.6,271.4 373.7,270.1 375.7,268.9 377.7,267.8 379.7,266.9 381.8,266.1 383.9,265.5 385.8,264.8 387.2,264.1 388.2,263.3 388.4,262.3 387.9,261.3 387.1,260.2 386.1,259.1 385.4,258.1 385.2,257.2 385.4,256.5 385.9,255.9 386.6,255.4 387.5,255 388.5,254.6 389.7,254.2 391.1,253.9 392.7,253.6 394.5,253.4 396.4,253.3 398.4,253 400.3,252.7 402.1,252.3 404,251.8 405.8,251.2 407.8,250.6 409.9,250.1 412.3,249.7 415,249.3 418.1,248.9 421.3,248.6 424.6,248.3 427.7,248.2 430.4,248.2 432.8,248.4 435,248.8 437.1,249.2 439,249.8 440.7,250.5 442.4,251.2 444,252 445.5,253 446.8,254 448,255.1 449.1,256.2 450,257.2 450.7,258.3 451.2,259.5 451.6,260.6 451.8,261.7 452,262.6 452.2,263.3" fill="none" stroke="#e0e0e0" stroke-width="3.6" stroke-linejoin="round" stroke-linecap="round"/>
<polyline points="359.6,258.8 359.9,258.8 360.3,258.7 360.8,258.7 361.3,258.6 361.7,258.5 362,258.5" fill="none" stroke="#e0e0e0" stroke-width="3.5" stroke-linejoin="round" stroke-linecap="round"/>
<polyline points="369,257.5 369.6,257.4 370.5,257.4 371.5,257.2 372.5,257.1 373.4,257.1 374,257" fill="none" stroke="#e0e0e0" stroke-width="3.5" stroke-linejoin="round" stroke-linecap="round"/>
<polyline points="419.6,308.2 417.1,307.7 413.6,307.2 409.5,306.4 405,305.6 400.6,304.5 396.5,303.1 392.4,301.2 388,298.6 383.7,295.8 379.6,293.2 376.1,291.2 373.5,290.3 371.9,290.7 371.2,292.2 371.1,294.3 371.3,296.7 371.6,298.7 371.6,300" fill="none" stroke="#c4c4c4" stroke-width="3.4" stroke-linejoin="round" stroke-linecap="round"/>
<polyline points="373.5,292 374,291.2 374.7,290.3 375.5,289.1 376.5,287.7 377.7,286.1 379.2,284.4 381,282.4 383.1,280.1 385.4,277.6 387.8,275.1 390.3,272.8 392.7,270.8 395,269.2 397.3,267.8 399.7,266.5 402.2,265.4 404.8,264.4 407.8,263.3 411.2,262.2 415.1,261.1 419.1,260 423.1,259.1 427,258.4 430.4,258 433.5,257.9 436.4,258 439.2,258.4 441.6,258.9 443.8,259.5 445.5,260.3 446.7,261.3 447.5,262.7 447.9,264.2 448.2,265.7 448.3,266.9 448.5,267.8" fill="none" stroke="#c4c4c4" stroke-width="3.4" stroke-linejoin="round" stroke-linecap="round"/>
<polyline points="414.5,303.1 411.7,301.9 407.6,300.1 402.9,298 398.1,295.9 394.1,293.8 391.4,292 390.1,290.6 389.6,289.3 389.8,288.2 390.6,287 391.6,285.8 392.7,284.4 394.1,282.8 395.8,281 397.9,279.1 400.2,277.2 402.5,275.4 404.8,273.8 407.2,272.3 409.9,270.8 412.6,269.5 415.2,268.2 417.7,267.2 419.8,266.3 421.5,265.6 423.1,265 424.3,264.6 425.5,264.4 426.5,264.5 427.4,264.8 428.2,265.5 428.8,266.4 429.3,267.7 429.7,269.1 430,270.6 430.4,272.3 430.8,274.3 431.1,276.6 431.4,279.1 431.6,281.5 431.8,283.6 432,285" fill="none" stroke="#ababab" stroke-width="3.4" stroke-linejoin="round" stroke-linecap="round"/>
<polygon points="407.8,279.8 408.6,279.1 409.7,278.5 411,277.8 412.4,277.3 413.9,276.9 415.3,276.8 416.8,276.9 418.6,277.1 420.4,277.5 422.1,278 423.5,278.8 424.4,279.8 424.8,281.2 424.8,282.9 424.5,284.9 424,286.9 423.5,288.8 422.9,290.4 422.3,291.8 421.7,293.2 421,294.4 420.2,295.5 419.3,296.1 418.3,296.4 417.2,296.1 415.8,295.3 414.4,294.1 413.1,292.8 411.8,291.5 410.8,290.4 410,289.4 409.4,288.3 408.8,287.3 408.4,286.3 408.1,285.3 407.8,284.4 407.5,283.5 407.3,282.7 407.1,281.9 407.1,281.2 407.3,280.5" fill="none" stroke="#949494" stroke-width="3.4" stroke-linejoin="round" stroke-linecap="round"/>
<polygon points="672,197 672.8,196.5 674,195.9 675.4,195.4 676.9,195 678.5,194.7 680,194.5 681.6,194.5 683.4,194.6 685.2,194.8 687,195.2 688.7,195.6 690,196 691.2,196.6 692.2,197.3 693.1,198 693.8,198.8 694.1,199.5 694,200 693.4,200.3 692.2,200.5 690.8,200.6 689.1,200.7 687.5,200.8 686,201 684.6,201.3 683.3,201.8 681.9,202.2 680.5,202.6 679.2,202.9 678,203 676.8,202.9 675.6,202.5 674.5,202.1 673.5,201.6 672.6,201 672,200.5 671.6,200 671.3,199.4 671.1,198.8 671.2,198.1 671.5,197.5" fill="none" stroke="#e0e0e0" stroke-width="3.6" stroke-linejoin="round" stroke-linecap="round"/>
<polyline points="717.5,201.5 717.9,201.5 718.5,201.5 719.2,201.5 720,201.5 720.6,201.5 721,201.5" fill="none" stroke="#e0e0e0" stroke-width="4" stroke-linejoin="round" stroke-linecap="round"/>
<polygon points="88,272 89.1,271.3 90.9,270.6 93.1,269.9 95.4,269.2 97.8,268.8 100,268.5 102.1,268.5 104.4,268.7 106.6,269 108.7,269.5 110.6,270 112,270.5 113.1,271.1 113.9,271.7 114.4,272.5 114.7,273.2 114.5,273.9 114,274.5 112.9,275 111.3,275.6 109.4,276.1 107.2,276.5 105,276.8 103,277 101,277.1 98.7,277 96.5,276.9 94.4,276.7 92.5,276.4 91,276 89.8,275.5 88.8,274.9 88,274.2 87.6,273.4 87.5,272.7" fill="none" stroke="#e0e0e0" stroke-width="3.6" stroke-linejoin="round" stroke-linecap="round"/>
<filter id="bl" x="-50%" y="-50%" width="200%" height="200%"><feGaussianBlur stdDeviation="1.6"/></filter>
<g filter="url(#bl)" stroke-linecap="round" fill="none">
<polyline points="452,252 449,262 446,271" stroke="#9a9a9a" stroke-width="6"/>
<polyline points="444,271 441,280 438,290 435,298" stroke="#333" stroke-width="8"/>
<polyline points="433,302 429,310 425,318" stroke="#555" stroke-width="7"/>
<polyline points="426,320 422,328 419,336" stroke="#a5a5a5" stroke-width="6"/>
<polyline points="444,258 441,268 438,278 436,286" stroke="#b8b8b8" stroke-width="4"/>
<polyline points="430,300 426,310 422,318 418,326" stroke="#b0b0b0" stroke-width="4"/>
</g>

<polygon points="184,132.5 185.8,126.1 191.3,118.9 194.9,116.2 203.9,112.6 212.9,111.7 216.6,116.2 227.4,115.3 238.2,111.7 247.3,109 256.3,101.7 265.3,99.9 269,98.1 292.4,98.1 294.2,104.5 301.5,109.9 303.3,118.9 308.7,126.1 310.5,133.4 317.7,138.8 321.3,144.2 325,151.4 326.8,162.3 328.6,167.7 326.8,174.9 326.8,185.8 328.7,192 334.6,201.7 337.5,213.5 336.5,229.1 337.5,248.7 334.6,256.5 328.7,264.4 322.8,268.3 309.1,270.2 301.3,268.3 293.5,260.5 286,251 281,243 276.4,235.8 274,228.6 266.7,222.5 258.3,217.1 245,217.7 236.6,223.7 233,233.4 230.6,243 228.2,250.2 222,256.5 219.8,253.9 215,247.8 210,240.6 204,232 200.5,228.6 195.7,225 189,217.7 189.6,208 193.1,198.4 195.8,187.6 194.9,174.9 193.1,162.3 193.1,149.6 191.3,146 192.2,142.4 189.5,137.9" fill="#fff"/>
<polygon points="164.4,279.8 169.8,274.4 194.2,273.9 240.3,275.8 262,277.1 281,282.5 290.8,292 294.5,305 298,318 303,330 310.7,345 314.4,357.6 314,380 309.5,396.4 302.7,397.8 280,397.6 256.6,392.7 240,388.5 217.4,382.8 200,378 188,373 174.4,363.3 164,353 157,344 155,336.8 154.9,323.2 153.6,304.2 156.3,290.7 160.3,283.9" fill="#fff"/>
<polygon points="307.1,283.5 319.8,280.8 332.4,279.9 341.5,285.3 350.5,294.4 352.3,303.4 354.1,312.4 356,319.7 357,327 359.6,339.6 362.3,345 363.2,361.3 357.8,366.7 352.3,368.5 343.3,370.3 337.9,368.5 334.2,364.9 329.7,357.6 327.9,346.8 327,336 321.6,332.3 316,322 312,300" fill="#fff"/>
<polygon points="323.6,420.2 326.6,403.7 332.6,394.6 340.1,389.4 349.2,386.4 362.7,382.6 373.3,380.3 382.3,379.6 388.3,384.1 397.4,387.1 406.4,389.4 415.4,392.4 424.5,396.1 433.5,403.7 442.5,411.2 451.6,418.7 454.6,426.3 450.1,432.3 442.5,438.3 433.5,442.1 423,442.8 413.9,441.3 400.4,441.3 388.3,441.3 373.3,438.3 359.7,436.8 347.6,433.8 338.6,431.5 331.1,427.8 325.1,423.3" fill="#fff"/>
<polygon points="458.7,238.7 470,228 494.9,224 535.5,222.9 558.1,224 567.2,227.4 573.9,234.2 578.5,243.2 583,254.5 587.5,265.8 589.7,277.1 594.3,288.4 596.5,299.7 597.7,305 595.7,311.5 593.8,325.2 586,337 582,348.7 583,364.4 582,376.1 578.1,387.9 574.2,399.6 566.4,407.4 552.7,415.3 537,419.2 527.2,420 509.6,417.2 494,411.4 486.1,403.5 474.4,397.7 466.5,391.8 454.8,391.8 443.1,385.9 431.3,380 417.6,370.2 413.7,360.5 415.7,344.8 421.5,335 425.4,325.2 427.1,324.6 433.9,311 440.7,297.5 445.2,286.2 447.4,272.6 452,261.3 454.2,252.3" fill="#fff"/>
<polygon points="608.2,203.2 613.2,200.7 631.4,200.7 636.4,205.7 649.7,206.5 656.3,212.3 662.1,215.6 662.9,221.4 661.3,229.7 662.9,246.3 659.6,252.9 648,257.9 644.7,262.9 633.1,264.5 629.8,271.1 623.1,273.6 611.5,272.8 606.6,266.2 605.7,257.9 608.2,246.3 608.2,229.7 606.6,213.1" fill="#fff"/>
<polygon points="697.7,214.8 702.7,214 725.9,214.8 735.8,218.1 742.4,228.1 742.4,246.3 737.5,251.3 701,251.3 697.7,246.3" fill="#fff"/>
<circle cx="250.9" cy="107.2" r="5" fill="#000"/>
<circle cx="210.2" cy="136.6" r="4.5" fill="#000"/>
<circle cx="253.6" cy="133.9" r="6" fill="#000"/>
<circle cx="275.3" cy="146.4" r="4.5" fill="#000"/>
<circle cx="298.8" cy="172.2" r="5" fill="#000"/>
<circle cx="213" cy="204.4" r="6.2" fill="#000"/>
<circle cx="327" cy="207" r="5" fill="#000"/>
<circle cx="249.8" cy="283.1" r="11.5" fill="#000"/>
<circle cx="163" cy="318.3" r="4.5" fill="#000"/>
<circle cx="272.9" cy="345.5" r="6.2" fill="#000"/>
<circle cx="301.6" cy="334.6" r="6.3" fill="#000"/>
<circle cx="313" cy="304.6" r="16" fill="#000"/>
<circle cx="325.2" cy="326.6" r="8.7" fill="#000"/>
<circle cx="352.9" cy="331.9" r="9.2" fill="#000"/>
<circle cx="354.8" cy="395" r="5" fill="#000"/>
<circle cx="392.4" cy="387.6" r="4.7" fill="#000"/>
<circle cx="428.2" cy="405.2" r="3.2" fill="#000"/>
<circle cx="475" cy="223.4" r="23" fill="#000"/>
<circle cx="541.9" cy="228.6" r="6.8" fill="#000"/>
<circle cx="558.8" cy="228.6" r="4.5" fill="#000"/>
<circle cx="580.3" cy="245.5" r="7.5" fill="#000"/>
<circle cx="606.7" cy="237.1" r="4.3" fill="#000"/>
<circle cx="615.7" cy="258.7" r="10.8" fill="#000"/>
<circle cx="637.6" cy="247.6" r="10.8" fill="#000"/>
<circle cx="440.9" cy="304.7" r="9.2" fill="#000"/>
<circle cx="592.8" cy="318.3" r="6.3" fill="#000"/>
<circle cx="580.1" cy="334.6" r="6.3" fill="#000"/>
<circle cx="571.5" cy="358.5" r="4.5" fill="#000"/>
<circle cx="578.1" cy="369.3" r="5" fill="#000"/>
<line x1="88.4" y1="76.5" x2="776.6" y2="76.5" stroke="#7a7a7a" stroke-width="1.9" stroke-dasharray="6.9 3.3"/>
<line x1="18.9" y1="155.8" x2="846.1" y2="155.8" stroke="#7a7a7a" stroke-width="1.9" stroke-dasharray="6.9 3.3"/>
<line x1="1.6" y1="237.1" x2="863.4" y2="237.1" stroke="#7a7a7a" stroke-width="1.9" stroke-dasharray="6.9 3.3"/>
<line x1="18.9" y1="318.3" x2="846.1" y2="318.3" stroke="#7a7a7a" stroke-width="1.9" stroke-dasharray="6.9 3.3"/>
<line x1="88.4" y1="397.6" x2="776.6" y2="397.6" stroke="#7a7a7a" stroke-width="1.9" stroke-dasharray="6.9 3.3"/>

</g>
<polygon points="661.8,455.6 668.1,453.9 675.2,451.6 683,449 691.4,445.8 700.2,442.3 709.3,438.5 718.2,434.4 726.7,430.2 734.6,425.8 742.1,421.4 749.3,416.8 756.4,412.1 763.3,407.4 770,402.5 776.6,397.6 783,392.6 789.2,387.5 795.3,382.4 801,377.2 806.5,372 811.5,366.8 816.3,361.5 820.9,356.1 825.4,350.8 829.6,345.4 833.4,340 837,334.6 840.3,329.2 843.4,323.8 846.1,318.3 848.6,312.9 850.8,307.5 852.6,302.1 854.2,296.7 855.7,291.2 857.1,285.8 858.5,280.4 859.6,275 860.6,269.6 861.4,264.1 862,258.7 862.6,253.3 862.9,247.9 863.2,242.5 863.4,237.1 863.2,231.6 862.9,226.2 862.6,220.8 862,215.4 861.4,210 860.6,204.5 859.6,199.1 858.5,193.7 857.1,188.3 855.7,182.9 854.2,177.4 852.6,172 850.8,166.6 848.6,161.2 846.1,155.8 843.4,150.3 840.3,144.9 837,139.5 833.4,134.1 829.6,128.7 825.4,123.3 820.9,118 816.3,112.6 811.5,107.3 806.5,102.1 801,96.9 795.3,91.7 789.2,86.6 783,81.5 776.6,76.5 770,71.6 763.3,66.7 756.4,62 749.3,57.3 742.1,52.7 734.6,48.3 726.7,43.9 718.2,39.7 709.3,35.6 700.2,31.8 691.4,28.3 683,25.1 675.2,22.5 668.1,20.2 661.8,18.5 203.2,18.5 196.9,20.2 189.8,22.5 182,25.1 173.6,28.3 164.8,31.8 155.7,35.6 146.8,39.7 138.3,43.9 130.4,48.3 122.9,52.7 115.7,57.3 108.6,62 101.7,66.7 95,71.6 88.4,76.5 82,81.5 75.8,86.6 69.7,91.7 64,96.9 58.5,102.1 53.5,107.3 48.7,112.6 44.1,118 39.6,123.3 35.4,128.7 31.6,134.1 28,139.5 24.7,144.9 21.6,150.3 18.9,155.8 16.4,161.2 14.2,166.6 12.4,172 10.8,177.4 9.3,182.9 7.9,188.3 6.5,193.7 5.4,199.1 4.4,204.5 3.6,210 3,215.4 2.4,220.8 2.1,226.2 1.8,231.6 1.6,237.1 1.8,242.5 2.1,247.9 2.4,253.3 3,258.7 3.6,264.1 4.4,269.6 5.4,275 6.5,280.4 7.9,285.8 9.3,291.2 10.8,296.7 12.4,302.1 14.2,307.5 16.4,312.9 18.9,318.3 21.6,323.8 24.7,329.2 28,334.6 31.6,340 35.4,345.4 39.6,350.8 44.1,356.1 48.7,361.5 53.5,366.8 58.5,372 64,377.2 69.7,382.4 75.8,387.5 82,392.6 88.4,397.6 95,402.5 101.7,407.4 108.6,412.1 115.7,416.8 122.9,421.4 130.4,425.8 138.3,430.2 146.8,434.4 155.7,438.5 164.8,442.3 173.6,445.8 182,449 189.8,451.6 196.9,453.9 203.2,455.6" fill="none" stroke="#000" stroke-width="2.2"/>
<polygon points="137.8,469.2 137.8,490.2 104.5,479.7" fill="#062333"/>
<polygon points="800.3,469.2 800.3,490.2 835,479.7" fill="#e5f65a"/>
<rect x="137.8" y="469.2" width="44.6" height="21" fill="#0d3061"/>
<rect x="182" y="469.2" width="44.6" height="21" fill="#21358a"/>
<rect x="226.1" y="469.2" width="44.6" height="21" fill="#3f35a1"/>
<rect x="270.3" y="469.2" width="44.6" height="21" fill="#593f9d"/>
<rect x="314.5" y="469.2" width="44.6" height="21" fill="#6e4996"/>
<rect x="358.6" y="469.2" width="44.6" height="21" fill="#83508e"/>
<rect x="402.8" y="469.2" width="44.6" height="21" fill="#985686"/>
<rect x="447" y="469.2" width="44.6" height="21" fill="#ae5c7e"/>
<rect x="491.1" y="469.2" width="44.6" height="21" fill="#c46473"/>
<rect x="535.3" y="469.2" width="44.6" height="21" fill="#da716b"/>
<rect x="579.5" y="469.2" width="44.6" height="21" fill="#ee7e57"/>
<rect x="623.6" y="469.2" width="44.6" height="21" fill="#f78f46"/>
<rect x="667.8" y="469.2" width="44.6" height="21" fill="#fba640"/>
<rect x="712" y="469.2" width="44.6" height="21" fill="#f9ba42"/>
<rect x="756.1" y="469.2" width="44.6" height="21" fill="#f5d64c"/>
<polygon points="137.8,469.2 800.3,469.2 835,479.7 800.3,490.2 137.8,490.2 104.5,479.7" fill="none" stroke="#000" stroke-width="1.6"/>
<line x1="182" y1="490.2" x2="182" y2="497.7" stroke="#000" stroke-width="2"/>
<text x="182" y="522.6" font-size="25" text-anchor="middle">10</text>
<line x1="270.3" y1="490.2" x2="270.3" y2="497.7" stroke="#000" stroke-width="2"/>
<text x="270.3" y="522.6" font-size="25" text-anchor="middle">14</text>
<line x1="358.6" y1="490.2" x2="358.6" y2="497.7" stroke="#000" stroke-width="2"/>
<text x="358.6" y="522.6" font-size="25" text-anchor="middle">18</text>
<line x1="447" y1="490.2" x2="447" y2="497.7" stroke="#000" stroke-width="2"/>
<text x="447" y="522.6" font-size="25" text-anchor="middle">22</text>
<line x1="535.3" y1="490.2" x2="535.3" y2="497.7" stroke="#000" stroke-width="2"/>
<text x="535.3" y="522.6" font-size="25" text-anchor="middle">26</text>
<line x1="623.6" y1="490.2" x2="623.6" y2="497.7" stroke="#000" stroke-width="2"/>
<text x="623.6" y="522.6" font-size="25" text-anchor="middle">30</text>
<line x1="712" y1="490.2" x2="712" y2="497.7" stroke="#000" stroke-width="2"/>
<text x="712" y="522.6" font-size="25" text-anchor="middle">34</text>
<line x1="800.3" y1="490.2" x2="800.3" y2="497.7" stroke="#000" stroke-width="2"/>
<text x="800.3" y="522.6" font-size="25" text-anchor="middle">38</text>
<text x="469" y="555" font-size="25" text-anchor="middle">SST (deg C)</text>
<rect x="188.2" y="580.9" width="58.2" height="13.1" fill="#efefef"/>
<rect x="246" y="580.9" width="58.2" height="13.1" fill="#d4d4d4"/>
<rect x="303.7" y="580.9" width="58.2" height="13.1" fill="#b4b4b4"/>
<rect x="361.5" y="580.9" width="58.2" height="13.1" fill="#9b9b9b"/>
<rect x="419.2" y="580.9" width="58.2" height="13.1" fill="#7e7e7e"/>
<rect x="477" y="580.9" width="58.2" height="13.1" fill="#626262"/>
<rect x="534.7" y="580.9" width="58.2" height="13.1" fill="#474747"/>
<rect x="592.5" y="580.9" width="58.2" height="13.1" fill="#282828"/>
<rect x="650.2" y="580.9" width="58.2" height="13.1" fill="#0f0f0f"/>
<rect x="188.2" y="580.9" width="519.8" height="13.1" fill="none" stroke="#000" stroke-width="1.6"/>
<line x1="217.1" y1="594.0" x2="217.1" y2="601.5" stroke="#000" stroke-width="2"/>
<text x="217.1" y="627" font-size="25" text-anchor="middle">0.1</text>
<line x1="332.6" y1="594.0" x2="332.6" y2="601.5" stroke="#000" stroke-width="2"/>
<text x="332.6" y="627" font-size="25" text-anchor="middle">0.3</text>
<line x1="448.1" y1="594.0" x2="448.1" y2="601.5" stroke="#000" stroke-width="2"/>
<text x="448.1" y="627" font-size="25" text-anchor="middle">0.5</text>
<line x1="563.6" y1="594.0" x2="563.6" y2="601.5" stroke="#000" stroke-width="2"/>
<text x="563.6" y="627" font-size="25" text-anchor="middle">0.7</text>
<line x1="679.1" y1="594.0" x2="679.1" y2="601.5" stroke="#000" stroke-width="2"/>
<text x="679.1" y="627" font-size="25" text-anchor="middle">0.9</text>
<text x="448.1" y="659.2" font-size="25" text-anchor="middle">relative carbonate precipitation</text>
<text x="986" y="31.4" font-size="33.3" text-anchor="start" fill="#000" font-weight="bold" >b</text>
<line x1="1019.4" y1="98.4" x2="1024" y2="98.4" stroke="#b3b3b3" stroke-width="1.4"/>
<line x1="1011.8" y1="98.4" x2="1019.4" y2="98.4" stroke="#000" stroke-width="1.9"/>
<line x1="1019.4" y1="98.4" x2="1252.5" y2="98.4" stroke="#b3b3b3" stroke-width="1.4" stroke-dasharray="5.6 2.6"/>
<text x="1005.2" y="106.1" font-size="22.3" text-anchor="end">60<tspan dx="0.5" dy="-3.4" font-size="15.5">°</tspan><tspan dx="0.9" dy="3.4">N</tspan></text>
<line x1="1019.4" y1="167.5" x2="1024" y2="167.5" stroke="#b3b3b3" stroke-width="1.4"/>
<line x1="1011.8" y1="167.5" x2="1019.4" y2="167.5" stroke="#000" stroke-width="1.9"/>
<line x1="1019.4" y1="167.5" x2="1252.5" y2="167.5" stroke="#b3b3b3" stroke-width="1.4" stroke-dasharray="5.6 2.6"/>
<text x="1005.2" y="175.2" font-size="22.3" text-anchor="end">30<tspan dx="0.5" dy="-3.4" font-size="15.5">°</tspan><tspan dx="0.9" dy="3.4">N</tspan></text>
<line x1="1019.4" y1="236.6" x2="1024" y2="236.6" stroke="#b3b3b3" stroke-width="1.4"/>
<line x1="1011.8" y1="236.6" x2="1019.4" y2="236.6" stroke="#000" stroke-width="1.9"/>
<line x1="1019.4" y1="236.6" x2="1252.5" y2="236.6" stroke="#b3b3b3" stroke-width="1.4" stroke-dasharray="5.6 2.6"/>
<text x="1005.2" y="244.3" font-size="22.3" text-anchor="end" fill="#000" font-weight="normal" >0</text>
<line x1="1019.4" y1="305.7" x2="1024" y2="305.7" stroke="#b3b3b3" stroke-width="1.4"/>
<line x1="1011.8" y1="305.7" x2="1019.4" y2="305.7" stroke="#000" stroke-width="1.9"/>
<line x1="1019.4" y1="305.7" x2="1252.5" y2="305.7" stroke="#b3b3b3" stroke-width="1.4" stroke-dasharray="5.6 2.6"/>
<text x="1005.2" y="313.4" font-size="22.3" text-anchor="end">30<tspan dx="0.5" dy="-3.4" font-size="15.5">°</tspan><tspan dx="0.9" dy="3.4">S</tspan></text>
<line x1="1019.4" y1="374.8" x2="1024" y2="374.8" stroke="#b3b3b3" stroke-width="1.4"/>
<line x1="1011.8" y1="374.8" x2="1019.4" y2="374.8" stroke="#000" stroke-width="1.9"/>
<line x1="1019.4" y1="374.8" x2="1252.5" y2="374.8" stroke="#b3b3b3" stroke-width="1.4" stroke-dasharray="5.6 2.6"/>
<text x="1005.2" y="382.5" font-size="22.3" text-anchor="end">60<tspan dx="0.5" dy="-3.4" font-size="15.5">°</tspan><tspan dx="0.9" dy="3.4">S</tspan></text>
<line x1="1018" y1="455.6" x2="1252.8" y2="455.6" stroke="#f00" stroke-width="2.2"/>
<line x1="1068.4" y1="455.6" x2="1068.4" y2="463.5" stroke="#f00" stroke-width="2.2"/>
<text x="1068.4" y="487.6" font-size="25" text-anchor="middle" fill="#f00" font-weight="normal" >10</text>
<line x1="1131.0" y1="455.6" x2="1131.0" y2="463.5" stroke="#f00" stroke-width="2.2"/>
<text x="1131" y="487.6" font-size="25" text-anchor="middle" fill="#f00" font-weight="normal" >20</text>
<line x1="1193.6" y1="455.6" x2="1193.6" y2="463.5" stroke="#f00" stroke-width="2.2"/>
<text x="1193.6" y="487.6" font-size="25" text-anchor="middle" fill="#f00" font-weight="normal" >30</text>
<text x="1135" y="519.4" font-size="25" text-anchor="middle" fill="#f00" font-weight="normal" >zonal mean SST (deg C)</text>
<line x1="1018" y1="543" x2="1252.8" y2="543" stroke="#000" stroke-width="2.2"/>
<line x1="1029.7" y1="543" x2="1029.7" y2="550.8" stroke="#000" stroke-width="2.2"/>
<text x="1029.7" y="574.8" font-size="25" text-anchor="middle" fill="#000" font-weight="normal" >0.0</text>
<line x1="1135.7" y1="543" x2="1135.7" y2="550.8" stroke="#000" stroke-width="2.2"/>
<text x="1135.7" y="574.8" font-size="25" text-anchor="middle" fill="#000" font-weight="normal" >0.5</text>
<line x1="1241.7" y1="543" x2="1241.7" y2="550.8" stroke="#000" stroke-width="2.2"/>
<text x="1241.7" y="574.8" font-size="25" text-anchor="middle" fill="#000" font-weight="normal" >1.0</text>
<text x="1135.5" y="606" font-size="25" text-anchor="middle" fill="#000" font-weight="normal" >rel. carbonate precip.</text>
<polyline points="1029.6,29.5 1029.8,150 1030.5,178 1033,182.5 1043.3,185.6 1074,190.2 1112.5,193.8 1127.8,195.9 1133,199.7 1134.2,203.5 1148.3,206.1 1176.5,210.7 1204.7,214.6 1209.8,217.6 1216.2,221.5 1209.8,224 1209.8,227.1 1241.8,231.2 1217.5,234.3 1215,236 1189.3,238.1 1181.6,240.7 1190.6,243.2 1176.5,245.8 1158.6,249.1 1156,251.7 1144.5,253.5 1143.2,256.8 1135.5,258.6 1149.6,263.7 1138,266.3 1140.6,270.1 1133,277.8 1136.8,284.2 1127.8,286 1117.6,290.6 1092,295.2 1061.2,302.2 1045.9,306 1039.5,312.4 1033,316.2 1031.2,323 1036,337.8 1031.2,356 1029.5,362.7 1029.5,444" fill="none" stroke="#000" stroke-width="2.8" stroke-linejoin="round"/>
<polyline points="1031.1,32 1031.4,33.2 1031.7,35 1032.3,37.2 1033,40 1033.8,43.5 1034.6,47.6 1035.9,52 1037.9,56.5 1040.9,60.9 1044.5,65.4 1048.6,70.2 1052.9,75.3 1057.3,81.1 1062.1,87.5 1066.9,93.7 1071.7,99 1076.3,103 1080.8,106.2 1085.4,109.1 1090,112 1094.6,115.1 1099.2,118.2 1104,121.2 1109.4,124.2 1115.5,127 1122.2,129.7 1129.1,132.5 1135.7,135.5 1141.9,138.9 1148,142.5 1154,146.2 1160,150 1166.1,153.7 1172.2,157.5 1178.3,161.4 1184.6,165.6 1191.3,170.1 1198.2,174.8 1204.9,179.6 1211,184.4 1216.5,189.2 1221.7,194 1226.2,198.7 1229.8,203.2 1232.2,207.5 1233.7,211.7 1234.6,215.6 1235.4,218.9 1236,221.4 1236.3,223.4 1236.5,225 1236.7,226.6 1237.1,228.1 1237.6,229.3 1237.9,230.5 1238,231.7 1237.5,233 1236.7,234.2 1235.9,235.5 1235.4,236.8 1235.4,238.2 1235.6,239.6 1236,240.9 1236.7,242 1237.8,242.6 1239.3,242.9 1240.8,243.4 1241.8,244.5 1242.3,246.5 1242.5,249 1242.4,251.9 1241.8,254.8 1240.8,257.7 1239.4,260.7 1237.6,264 1235.4,267.6 1232.8,271.7 1229.7,276.2 1226.3,280.8 1222.6,285.5 1218.6,290.3 1214.3,295.3 1209.8,300.2 1205.2,304.7 1200.7,308.6 1196.2,312.1 1191.3,315.6 1185.3,319.6 1177.8,324.3 1169.1,329.5 1160.2,334.6 1152,339.5 1144.8,343.8 1138.2,347.9 1131.8,351.8 1125.6,356 1119.3,360.5 1113.2,365.2 1107.4,369.9 1102.4,374.3 1098.4,378.1 1095.2,381.7 1092.3,385.2 1089.2,389.2 1085.7,393.8 1082.1,398.8 1078.8,403.9 1075.9,409 1073.7,414.1 1071.9,419.3 1070.4,424.3 1069.3,429 1068.5,433.5 1068,437.8 1067.8,441.4 1067.6,444" fill="none" stroke="#f00" stroke-width="2.8" stroke-linejoin="round"/>
<text x="1263" y="30.9" font-size="33.3" text-anchor="start" fill="#000" font-weight="bold" >c</text>
<line x1="1408.2" y1="17.5" x2="1408.2" y2="456.9" stroke="#000" stroke-width="2.2"/>
<line x1="1874.3" y1="17.5" x2="1874.3" y2="456.9" stroke="#000" stroke-width="2.2"/>
<line x1="1401.2" y1="455.8" x2="1408.2" y2="455.8" stroke="#000" stroke-width="2.2"/>
<text x="1394.5" y="464.9" font-size="25" text-anchor="end" fill="#00f" font-weight="normal" >0</text>
<line x1="1401.2" y1="382.9" x2="1408.2" y2="382.9" stroke="#000" stroke-width="2.2"/>
<text x="1394.5" y="392" font-size="25" text-anchor="end" fill="#00f" font-weight="normal" >2</text>
<line x1="1401.2" y1="310" x2="1408.2" y2="310" stroke="#000" stroke-width="2.2"/>
<text x="1394.5" y="319.1" font-size="25" text-anchor="end" fill="#00f" font-weight="normal" >4</text>
<line x1="1401.2" y1="237.1" x2="1408.2" y2="237.1" stroke="#000" stroke-width="2.2"/>
<text x="1394.5" y="246.2" font-size="25" text-anchor="end" fill="#00f" font-weight="normal" >6</text>
<line x1="1401.2" y1="164.2" x2="1408.2" y2="164.2" stroke="#000" stroke-width="2.2"/>
<text x="1394.5" y="173.3" font-size="25" text-anchor="end" fill="#00f" font-weight="normal" >8</text>
<line x1="1401.2" y1="91.3" x2="1408.2" y2="91.3" stroke="#000" stroke-width="2.2"/>
<text x="1394.5" y="100.4" font-size="25" text-anchor="end" fill="#00f" font-weight="normal" >10</text>
<line x1="1874.3" y1="455.8" x2="1881" y2="455.8" stroke="#000" stroke-width="2.2"/>
<text x="1886.6" y="464.9" font-size="25" text-anchor="start" fill="#000" font-weight="normal" >0</text>
<line x1="1874.3" y1="401.2" x2="1881" y2="401.2" stroke="#000" stroke-width="2.2"/>
<text x="1886.6" y="410.3" font-size="25" text-anchor="start" fill="#000" font-weight="normal" >10</text>
<line x1="1874.3" y1="346.5" x2="1881" y2="346.5" stroke="#000" stroke-width="2.2"/>
<text x="1886.6" y="355.6" font-size="25" text-anchor="start" fill="#000" font-weight="normal" >20</text>
<line x1="1874.3" y1="291.9" x2="1881" y2="291.9" stroke="#000" stroke-width="2.2"/>
<text x="1886.6" y="301" font-size="25" text-anchor="start" fill="#000" font-weight="normal" >30</text>
<line x1="1874.3" y1="237.2" x2="1881" y2="237.2" stroke="#000" stroke-width="2.2"/>
<text x="1886.6" y="246.3" font-size="25" text-anchor="start" fill="#000" font-weight="normal" >40</text>
<line x1="1874.3" y1="182.6" x2="1881" y2="182.6" stroke="#000" stroke-width="2.2"/>
<text x="1886.6" y="191.7" font-size="25" text-anchor="start" fill="#000" font-weight="normal" >50</text>
<line x1="1409" y1="455.8" x2="1409" y2="462.8" stroke="#000" stroke-width="2.2"/>
<text x="1409" y="488.3" font-size="25" text-anchor="middle" fill="#000" font-weight="normal" >0</text>
<line x1="1497.7" y1="455.8" x2="1497.7" y2="462.8" stroke="#000" stroke-width="2.2"/>
<text x="1497.7" y="488.3" font-size="25" text-anchor="middle" fill="#000" font-weight="normal" >1000</text>
<line x1="1586.3" y1="455.8" x2="1586.3" y2="462.8" stroke="#000" stroke-width="2.2"/>
<text x="1586.3" y="488.3" font-size="25" text-anchor="middle" fill="#000" font-weight="normal" >2000</text>
<line x1="1675" y1="455.8" x2="1675" y2="462.8" stroke="#000" stroke-width="2.2"/>
<text x="1675" y="488.3" font-size="25" text-anchor="middle" fill="#000" font-weight="normal" >3000</text>
<line x1="1763.6" y1="455.8" x2="1763.6" y2="462.8" stroke="#000" stroke-width="2.2"/>
<text x="1763.6" y="488.3" font-size="25" text-anchor="middle" fill="#000" font-weight="normal" >4000</text>
<line x1="1852.2" y1="455.8" x2="1852.2" y2="462.8" stroke="#000" stroke-width="2.2"/>
<text x="1852.2" y="488.3" font-size="25" text-anchor="middle" fill="#000" font-weight="normal" >5000</text>
<text x="1641" y="519.9" font-size="25" text-anchor="middle" fill="#000" font-weight="normal" >years since deglaciation start</text>
<text transform="translate(1347,477.7) rotate(-90)" font-size="25" fill="#00f" textLength="253.3" lengthAdjust="spacing">deposition rate (x10</text>
<text transform="translate(1338,224.2) rotate(-90)" font-size="18" fill="#00f" textLength="22.9" lengthAdjust="spacing">15</text>
<text transform="translate(1347,193.3) rotate(-90)" font-size="25" fill="#00f" textLength="88.3" lengthAdjust="spacing">mol CO</text>
<text transform="translate(1337,103.5) rotate(-90)" font-size="18" fill="#00f" textLength="29.5" lengthAdjust="spacing">2−</text>
<text transform="translate(1354,102.5) rotate(-90)" font-size="18" fill="#00f" textLength="11.5" lengthAdjust="spacing">3</text>
<text transform="translate(1347,59.2) rotate(-90)" font-size="25" fill="#00f" textLength="25.3" lengthAdjust="spacing">yr</text>
<text transform="translate(1337,34.3) rotate(-90)" font-size="18" fill="#00f" textLength="26.3" lengthAdjust="spacing">−1</text>
<text transform="translate(1347,7.5) rotate(-90)" font-size="25" fill="#00f" textLength="9.8" lengthAdjust="spacing">)</text>
<text transform="translate(1950,411.6) rotate(-90)" font-size="25" fill="#000" textLength="200.9" lengthAdjust="spacing">atmospheric CO</text>
<text transform="translate(1954,211.5) rotate(-90)" font-size="18" fill="#000" textLength="11.4" lengthAdjust="spacing">2</text>
<text transform="translate(1950,190.7) rotate(-90)" font-size="25" fill="#000" textLength="41.2" lengthAdjust="spacing">(10</text>
<text transform="translate(1940.8,149.2) rotate(-90)" font-size="18" fill="#000" textLength="11.4" lengthAdjust="spacing">3</text>
<text transform="translate(1950,129.6) rotate(-90)" font-size="25" fill="#000" textLength="66.1" lengthAdjust="spacing">ppm)</text>
<polyline points="1409.5,381.7 1415.5,382.6 1433.8,382.9 1466.5,383 1500.8,382.6 1562.9,381.6 1693.6,378.2 1852,375.3" fill="none" stroke="#808080" stroke-width="4.0"/>
<polyline points="1409.5,382 1425.5,375.8 1442.1,370.3 1459.7,365.1 1478.4,360.4 1498,356.2 1519.5,352.3 1543.1,348.8 1566.6,345.8 1592.1,343.2 1619.5,340.8 1648.9,338.8 1682.2,336.9 1717.5,335.4 1756.7,334 1799.8,332.8 1852,331.6" fill="none" stroke="#000" stroke-width="4.0"/>
<polyline points="1409.5,382 1415.6,375.6 1422.1,369.5 1428.7,363.6 1435.4,358.3 1442.4,353.2 1449.6,348.4 1457.1,343.9 1464.7,339.7 1472.5,335.9 1482.3,331.5 1490.1,328.4 1499.9,325 1509.7,321.9 1519.5,319.2 1529.3,316.8 1541.1,314.2 1562.7,310.3 1588.1,306.8 1615.6,303.9 1648.9,301.2 1686.1,298.9 1729.3,296.7 1782.2,294.6 1852,292.2" fill="none" stroke="#000" stroke-width="4.0" stroke-dasharray="14 5.9"/>
<polyline points="1409.5,382 1414.6,371.4 1419.7,361.9 1425,352.8 1430.6,344.2 1436.5,336.1 1442.6,328.6 1449.1,321.6 1455.7,315.2 1462.7,309.2 1470.5,303.3 1478.4,298.2 1486.2,293.7 1494.1,289.7 1503.9,285.4 1513.7,281.7 1523.5,278.5 1535.2,275.1 1547,272.2 1558.7,269.7 1572.5,267.2 1588.1,264.7 1603.8,262.6 1621.5,260.5 1641.1,258.5 1662.6,256.6 1684.2,254.9 1733.2,251.9 1788.1,249.4 1852,247.3" fill="none" stroke="#000" stroke-width="4.0" stroke-dasharray="4 6.2"/>
<polyline points="1409.5,382 1412.7,367.9 1416.2,355.1 1420.2,342.9 1424.5,332 1429.3,321.7 1434.6,312.1 1440.8,302.7 1447.5,293.9 1455.7,284.4 1464.7,275.6 1474.5,267.2 1484.3,259.8 1494.1,253.2 1505.8,246.4 1517.6,240.4 1529.3,235.2 1541.1,230.8 1552.9,226.9 1566.6,223 1580.3,219.7 1594,216.9 1609.7,214.2 1625.4,212 1643,210 1662.6,208.2 1682.2,206.8 1703.8,205.6 1727.3,204.5 1752.8,203.7 1782.2,203 1852,202.1" fill="none" stroke="#000" stroke-width="4.0" stroke-dasharray="24.6 5.9 4 5.9"/>
<polyline points="1409.5,455.2 1410.5,454.6 1411.6,452.7 1415.4,439.7 1416.4,433.9 1418.1,418.3 1419.1,411.2 1420.2,405.2 1421.5,400.7 1423.1,397.1 1424.4,395.1 1425.2,394.4 1428.2,393.1 1432.1,392.3 1442.9,398.1 1465.7,411.4 1476,417.1 1486.9,422.3 1498.2,427 1506.4,429.8 1515.1,432.5 1524.8,435.3 1534.6,437.7 1543.9,439.9 1555.8,442.3 1575.5,445.6 1591.3,447.7 1611.1,449.6 1630.8,451 1650.6,451.8 1670.3,452.2 1690.1,452.3 1761.2,451.6 1792.8,451.6 1808.6,451.9 1824.4,452.4 1840.2,453.3 1852,454.2" fill="none" stroke="#00f" stroke-width="4.0"/>
<polyline points="1409.5,455.2 1410.6,452.8 1411.5,450.4 1412.1,442.8 1412.6,432.4 1412.9,409 1413.3,341.6 1413.9,320.9 1414.7,310.6 1415.2,307.9 1416,305.6 1418,303.9 1421.1,305.4 1424.1,307.8 1427.8,311.6 1431.5,316.4 1435.2,321.8 1439.5,328.9 1455.4,357.5 1462.8,369.6 1467,376 1471.9,382.5 1476.9,388.5 1481.8,393.8 1487.3,399.2 1493.4,404.5 1500.2,409.5 1506.9,413.9 1514.9,418.5 1522.8,422.5 1531.4,426.3 1540,429.5 1547.9,432.1 1559.7,435.4 1571.6,438 1583.4,440.1 1595.3,441.7 1611.1,443.6 1626.9,445.1 1646.6,446.8 1678.2,448.7 1713.8,450 1745.4,450.7 1816.5,451.8 1852,452.6" fill="none" stroke="#00f" stroke-width="4.0" stroke-dasharray="14 5.9"/>
<polyline points="1409.5,455.2 1412,437.1 1412.4,432.5 1412.7,423.4 1413.4,396 1413.8,368.6 1414.8,245.2 1415.3,213.1 1416,194.9 1416.8,190.4 1418,185.9 1421.1,194.7 1424.7,206.9 1440.1,264.2 1444.4,279.1 1448,291 1452.9,305.6 1457.8,318.8 1463.4,332.2 1468.9,344.2 1475,356 1481.8,367.4 1488.5,377.2 1495.2,385.7 1502.6,393.6 1511.2,401.6 1520.4,408.8 1529.6,415 1538.8,420.1 1547.9,424.4 1559.7,428.9 1571.6,432.4 1587.4,436.1 1603.2,439.2 1619,441.8 1638.7,444.4 1654.5,446 1670.3,447.3 1686.1,448.3 1701.9,449 1733.5,449.9 1812.5,451 1832.3,451.6 1852,452.5" fill="none" stroke="#00f" stroke-width="4.0" stroke-dasharray="4 6.2"/>
<polyline points="1409.5,455.2 1410.8,195.1 1411.4,181.8 1412.7,161.9 1418.4,62 1419.6,65.3 1421.5,72 1423.3,80.5 1425.1,90.4 1428.2,109 1439.2,180 1442.8,201.1 1446.5,220.1 1450.8,240 1455.1,257.8 1460,276 1465.5,294.5 1471.6,312.8 1478.3,330.4 1485,345.6 1488.7,353 1492.3,359.9 1496,366.2 1499.7,372 1503.3,377.4 1507.6,383.2 1511.9,388.6 1516.2,393.5 1520.4,398 1525.3,402.6 1529.6,406.3 1534.5,410.1 1539.4,413.4 1543.9,416.2 1551.8,420.4 1555.8,422.2 1563.7,425.3 1575.5,428.9 1583.4,431 1595.3,433.7 1615,437.7 1634.8,441 1654.5,443.8 1674.3,446 1698,448.1 1721.7,449.6 1745.4,450.6 1773,451.4 1800.7,451.8 1852,452.2" fill="none" stroke="#00f" stroke-width="4.0" stroke-dasharray="24.6 5.9 4 5.9"/>
<rect x="1327.5" y="545.4" width="673" height="82.5" rx="4" fill="#fff" fill-opacity="0.8" stroke="#cccccc" stroke-width="2"/>
<line x1="1336.4" y1="566.7" x2="1389.8" y2="566.7" stroke="#000" stroke-width="4"/>
<text x="1408" y="574.8" font-size="25">ALK = 20 mol m<tspan dy="-10" font-size="17.5">−3</tspan></text>
<line x1="1338.2" y1="604.1" x2="1389.8" y2="604.1" stroke="#000" stroke-width="4" stroke-dasharray="14 5.9"/>
<text x="1408" y="612.2" font-size="25">ALK = 25 mol m<tspan dy="-10" font-size="17.5">−3</tspan></text>
<line x1="1689.7" y1="566.7" x2="1739" y2="566.7" stroke="#000" stroke-width="4" stroke-dasharray="4 6.2"/>
<text x="1759.5" y="574.8" font-size="25">ALK = 30 mol m<tspan dy="-10" font-size="17.5">−3</tspan></text>
<line x1="1689.7" y1="604.1" x2="1739" y2="604.1" stroke="#000" stroke-width="4" stroke-dasharray="24.6 5.9 4 5.9"/>
<text x="1759.5" y="612.2" font-size="25">ALK = 35 mol m<tspan dy="-10" font-size="17.5">−3</tspan></text>
</svg>
</body></html>
